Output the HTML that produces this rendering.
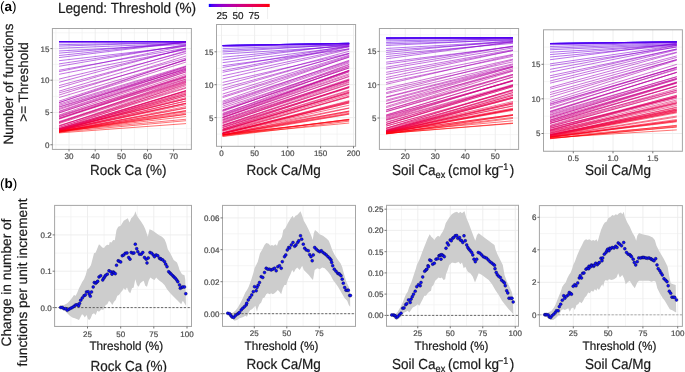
<!DOCTYPE html>
<html><head><meta charset="utf-8"><title>Multifunctionality threshold figure</title>
<style>html,body{margin:0;padding:0;background:#fff;} body{width:685px;height:372px;overflow:hidden;} svg{display:block;will-change:transform;}</style>
</head><body>
<svg width="685" height="372" viewBox="0 0 685 372" text-rendering="geometricPrecision">
<rect x="0" y="0" width="685" height="372" fill="#fff"/>
<rect x="52.4" y="28.5" width="139.0" height="120.9" fill="#fff"/>
<line x1="55.9" y1="28.5" x2="55.9" y2="149.4" stroke="#f0f0f0" stroke-width="0.7"/>
<line x1="82.1" y1="28.5" x2="82.1" y2="149.4" stroke="#f0f0f0" stroke-width="0.7"/>
<line x1="108.30000000000001" y1="28.5" x2="108.30000000000001" y2="149.4" stroke="#f0f0f0" stroke-width="0.7"/>
<line x1="134.45" y1="28.5" x2="134.45" y2="149.4" stroke="#f0f0f0" stroke-width="0.7"/>
<line x1="160.55" y1="28.5" x2="160.55" y2="149.4" stroke="#f0f0f0" stroke-width="0.7"/>
<line x1="186.7" y1="28.5" x2="186.7" y2="149.4" stroke="#f0f0f0" stroke-width="0.7"/>
<line x1="52.4" y1="32.8" x2="191.4" y2="32.8" stroke="#f0f0f0" stroke-width="0.7"/>
<line x1="52.4" y1="64.4" x2="191.4" y2="64.4" stroke="#f0f0f0" stroke-width="0.7"/>
<line x1="52.4" y1="96.35" x2="191.4" y2="96.35" stroke="#f0f0f0" stroke-width="0.7"/>
<line x1="52.4" y1="128.625" x2="191.4" y2="128.625" stroke="#f0f0f0" stroke-width="0.7"/>
<line x1="69" y1="28.5" x2="69" y2="149.4" stroke="#ececec" stroke-width="0.9"/>
<line x1="95.2" y1="28.5" x2="95.2" y2="149.4" stroke="#ececec" stroke-width="0.9"/>
<line x1="121.4" y1="28.5" x2="121.4" y2="149.4" stroke="#ececec" stroke-width="0.9"/>
<line x1="147.5" y1="28.5" x2="147.5" y2="149.4" stroke="#ececec" stroke-width="0.9"/>
<line x1="173.6" y1="28.5" x2="173.6" y2="149.4" stroke="#ececec" stroke-width="0.9"/>
<line x1="52.4" y1="144.75" x2="191.4" y2="144.75" stroke="#ececec" stroke-width="0.9"/>
<line x1="52.4" y1="112.5" x2="191.4" y2="112.5" stroke="#ececec" stroke-width="0.9"/>
<line x1="52.4" y1="80.2" x2="191.4" y2="80.2" stroke="#ececec" stroke-width="0.9"/>
<line x1="52.4" y1="48.6" x2="191.4" y2="48.6" stroke="#ececec" stroke-width="0.9"/>
<line x1="59" y1="41.50" x2="186" y2="41.50" stroke="#0000ff" stroke-width="0.65" stroke-opacity="0.85"/>
<line x1="59" y1="41.50" x2="186" y2="41.50" stroke="#2100fc" stroke-width="0.65" stroke-opacity="0.85"/>
<line x1="59" y1="41.50" x2="186" y2="41.50" stroke="#3100fa" stroke-width="0.65" stroke-opacity="0.85"/>
<line x1="59" y1="41.50" x2="186" y2="41.50" stroke="#3c00f7" stroke-width="0.65" stroke-opacity="0.85"/>
<line x1="59" y1="41.50" x2="186" y2="41.50" stroke="#4500f5" stroke-width="0.65" stroke-opacity="0.85"/>
<line x1="59" y1="41.50" x2="186" y2="41.50" stroke="#4d00f2" stroke-width="0.65" stroke-opacity="0.85"/>
<line x1="59" y1="41.50" x2="186" y2="41.50" stroke="#5400ef" stroke-width="0.65" stroke-opacity="0.85"/>
<line x1="59" y1="42.20" x2="186" y2="41.75" stroke="#5b00ed" stroke-width="0.65" stroke-opacity="0.85"/>
<line x1="59" y1="42.80" x2="186" y2="42.04" stroke="#6100ea" stroke-width="0.65" stroke-opacity="0.85"/>
<line x1="59" y1="44.70" x2="186" y2="42.38" stroke="#6600e8" stroke-width="0.65" stroke-opacity="0.85"/>
<line x1="59" y1="46.11" x2="186" y2="42.21" stroke="#6b00e5" stroke-width="0.65" stroke-opacity="0.85"/>
<line x1="59" y1="48.25" x2="186" y2="43.19" stroke="#7000e2" stroke-width="0.65" stroke-opacity="0.85"/>
<line x1="59" y1="50.98" x2="186" y2="44.26" stroke="#7400e0" stroke-width="0.65" stroke-opacity="0.85"/>
<line x1="59" y1="53.14" x2="186" y2="42.37" stroke="#7800dd" stroke-width="0.65" stroke-opacity="0.85"/>
<line x1="59" y1="55.54" x2="186" y2="42.16" stroke="#7c00db" stroke-width="0.65" stroke-opacity="0.85"/>
<line x1="59" y1="57.59" x2="186" y2="42.12" stroke="#8000d8" stroke-width="0.65" stroke-opacity="0.85"/>
<line x1="59" y1="60.69" x2="186" y2="46.14" stroke="#8300d6" stroke-width="0.65" stroke-opacity="0.85"/>
<line x1="59" y1="63.88" x2="186" y2="45.20" stroke="#8700d3" stroke-width="0.65" stroke-opacity="0.85"/>
<line x1="59" y1="66.31" x2="186" y2="44.69" stroke="#8a00d0" stroke-width="0.65" stroke-opacity="0.85"/>
<line x1="59" y1="70.19" x2="186" y2="48.10" stroke="#8d00ce" stroke-width="0.65" stroke-opacity="0.85"/>
<line x1="59" y1="71.63" x2="186" y2="45.65" stroke="#9000cb" stroke-width="0.65" stroke-opacity="0.85"/>
<line x1="59" y1="74.34" x2="186" y2="49.53" stroke="#9300c9" stroke-width="0.65" stroke-opacity="0.85"/>
<line x1="59" y1="79.09" x2="186" y2="48.83" stroke="#9600c6" stroke-width="0.65" stroke-opacity="0.85"/>
<line x1="59" y1="82.29" x2="186" y2="48.10" stroke="#9900c4" stroke-width="0.65" stroke-opacity="0.85"/>
<line x1="59" y1="85.62" x2="186" y2="51.65" stroke="#9c00c1" stroke-width="0.65" stroke-opacity="0.85"/>
<line x1="59" y1="87.79" x2="186" y2="50.87" stroke="#9e00bf" stroke-width="0.65" stroke-opacity="0.85"/>
<line x1="59" y1="91.16" x2="186" y2="53.25" stroke="#a100bc" stroke-width="0.65" stroke-opacity="0.85"/>
<line x1="59" y1="92.87" x2="186" y2="58.12" stroke="#a300ba" stroke-width="0.65" stroke-opacity="0.85"/>
<line x1="59" y1="95.04" x2="186" y2="55.93" stroke="#a600b7" stroke-width="0.65" stroke-opacity="0.85"/>
<line x1="59" y1="97.52" x2="186" y2="60.09" stroke="#a800b5" stroke-width="0.65" stroke-opacity="0.85"/>
<line x1="59" y1="101.12" x2="186" y2="59.74" stroke="#aa00b2" stroke-width="0.65" stroke-opacity="0.85"/>
<line x1="59" y1="102.66" x2="186" y2="59.35" stroke="#ac00b0" stroke-width="0.65" stroke-opacity="0.85"/>
<line x1="59" y1="102.63" x2="186" y2="62.00" stroke="#ae00ad" stroke-width="0.65" stroke-opacity="0.85"/>
<line x1="59" y1="104.14" x2="186" y2="65.95" stroke="#b100ab" stroke-width="0.65" stroke-opacity="0.85"/>
<line x1="59" y1="105.41" x2="186" y2="66.72" stroke="#b300a8" stroke-width="0.65" stroke-opacity="0.85"/>
<line x1="59" y1="106.79" x2="186" y2="67.77" stroke="#b500a6" stroke-width="0.65" stroke-opacity="0.85"/>
<line x1="59" y1="107.20" x2="186" y2="69.35" stroke="#b700a3" stroke-width="0.65" stroke-opacity="0.85"/>
<line x1="59" y1="108.52" x2="186" y2="69.16" stroke="#b800a1" stroke-width="0.65" stroke-opacity="0.85"/>
<line x1="59" y1="109.59" x2="186" y2="66.57" stroke="#ba009e" stroke-width="0.65" stroke-opacity="0.85"/>
<line x1="59" y1="111.17" x2="186" y2="68.32" stroke="#bc009c" stroke-width="0.65" stroke-opacity="0.85"/>
<line x1="59" y1="111.74" x2="186" y2="70.27" stroke="#be009a" stroke-width="0.65" stroke-opacity="0.85"/>
<line x1="59" y1="112.77" x2="186" y2="71.77" stroke="#c00097" stroke-width="0.65" stroke-opacity="0.85"/>
<line x1="59" y1="112.97" x2="186" y2="70.57" stroke="#c10095" stroke-width="0.65" stroke-opacity="0.85"/>
<line x1="59" y1="115.04" x2="186" y2="71.95" stroke="#c30092" stroke-width="0.65" stroke-opacity="0.85"/>
<line x1="59" y1="115.68" x2="186" y2="76.30" stroke="#c50090" stroke-width="0.65" stroke-opacity="0.85"/>
<line x1="59" y1="116.90" x2="186" y2="76.91" stroke="#c6008d" stroke-width="0.65" stroke-opacity="0.85"/>
<line x1="59" y1="116.64" x2="186" y2="73.82" stroke="#c8008b" stroke-width="0.65" stroke-opacity="0.85"/>
<line x1="59" y1="118.53" x2="186" y2="75.29" stroke="#ca0088" stroke-width="0.65" stroke-opacity="0.85"/>
<line x1="59" y1="117.91" x2="186" y2="79.02" stroke="#cb0086" stroke-width="0.65" stroke-opacity="0.85"/>
<line x1="59" y1="118.79" x2="186" y2="76.58" stroke="#cd0084" stroke-width="0.65" stroke-opacity="0.85"/>
<line x1="59" y1="119.14" x2="186" y2="77.64" stroke="#ce0081" stroke-width="0.65" stroke-opacity="0.85"/>
<line x1="59" y1="121.56" x2="186" y2="80.37" stroke="#cf007f" stroke-width="0.65" stroke-opacity="0.85"/>
<line x1="59" y1="122.55" x2="186" y2="79.12" stroke="#d1007c" stroke-width="0.65" stroke-opacity="0.85"/>
<line x1="59" y1="122.11" x2="186" y2="81.13" stroke="#d2007a" stroke-width="0.65" stroke-opacity="0.85"/>
<line x1="59" y1="122.78" x2="186" y2="81.54" stroke="#d40078" stroke-width="0.65" stroke-opacity="0.85"/>
<line x1="59" y1="123.55" x2="186" y2="82.31" stroke="#d50075" stroke-width="0.65" stroke-opacity="0.85"/>
<line x1="59" y1="126.10" x2="186" y2="84.58" stroke="#d60073" stroke-width="0.65" stroke-opacity="0.85"/>
<line x1="59" y1="126.17" x2="186" y2="82.80" stroke="#d80070" stroke-width="0.65" stroke-opacity="0.85"/>
<line x1="59" y1="125.47" x2="186" y2="87.45" stroke="#d9006e" stroke-width="0.65" stroke-opacity="0.85"/>
<line x1="59" y1="127.80" x2="186" y2="83.81" stroke="#da006b" stroke-width="0.65" stroke-opacity="0.85"/>
<line x1="59" y1="127.28" x2="186" y2="88.15" stroke="#dc0069" stroke-width="0.65" stroke-opacity="0.85"/>
<line x1="59" y1="128.75" x2="186" y2="85.68" stroke="#dd0067" stroke-width="0.65" stroke-opacity="0.85"/>
<line x1="59" y1="128.66" x2="186" y2="90.60" stroke="#de0064" stroke-width="0.65" stroke-opacity="0.85"/>
<line x1="59" y1="129.03" x2="186" y2="90.87" stroke="#df0062" stroke-width="0.65" stroke-opacity="0.85"/>
<line x1="59" y1="128.77" x2="186" y2="91.13" stroke="#e1005f" stroke-width="0.65" stroke-opacity="0.85"/>
<line x1="59" y1="130.24" x2="186" y2="90.59" stroke="#e2005d" stroke-width="0.65" stroke-opacity="0.85"/>
<line x1="59" y1="130.32" x2="186" y2="92.23" stroke="#e3005b" stroke-width="0.65" stroke-opacity="0.85"/>
<line x1="59" y1="129.46" x2="186" y2="93.15" stroke="#e40058" stroke-width="0.65" stroke-opacity="0.85"/>
<line x1="59" y1="128.95" x2="186" y2="94.30" stroke="#e50056" stroke-width="0.65" stroke-opacity="0.85"/>
<line x1="59" y1="130.65" x2="186" y2="95.61" stroke="#e60053" stroke-width="0.65" stroke-opacity="0.85"/>
<line x1="59" y1="130.45" x2="186" y2="95.74" stroke="#e70051" stroke-width="0.65" stroke-opacity="0.85"/>
<line x1="59" y1="130.76" x2="186" y2="94.12" stroke="#e9004e" stroke-width="0.65" stroke-opacity="0.85"/>
<line x1="59" y1="129.24" x2="186" y2="97.57" stroke="#ea004c" stroke-width="0.65" stroke-opacity="0.85"/>
<line x1="59" y1="129.73" x2="186" y2="98.93" stroke="#eb0049" stroke-width="0.65" stroke-opacity="0.85"/>
<line x1="59" y1="130.60" x2="186" y2="100.90" stroke="#ec0047" stroke-width="0.65" stroke-opacity="0.85"/>
<line x1="59" y1="129.49" x2="186" y2="98.67" stroke="#ed0044" stroke-width="0.65" stroke-opacity="0.85"/>
<line x1="59" y1="129.97" x2="186" y2="98.88" stroke="#ee0042" stroke-width="0.65" stroke-opacity="0.85"/>
<line x1="59" y1="130.98" x2="186" y2="101.11" stroke="#ef003f" stroke-width="0.65" stroke-opacity="0.85"/>
<line x1="59" y1="130.41" x2="186" y2="103.10" stroke="#f0003d" stroke-width="0.65" stroke-opacity="0.85"/>
<line x1="59" y1="130.71" x2="186" y2="104.66" stroke="#f1003a" stroke-width="0.65" stroke-opacity="0.85"/>
<line x1="59" y1="131.71" x2="186" y2="103.42" stroke="#f20037" stroke-width="0.65" stroke-opacity="0.85"/>
<line x1="59" y1="130.68" x2="186" y2="103.42" stroke="#f30034" stroke-width="0.65" stroke-opacity="0.85"/>
<line x1="59" y1="131.82" x2="186" y2="108.22" stroke="#f40032" stroke-width="0.65" stroke-opacity="0.85"/>
<line x1="59" y1="132.14" x2="186" y2="106.59" stroke="#f5002f" stroke-width="0.65" stroke-opacity="0.85"/>
<line x1="59" y1="131.24" x2="186" y2="107.82" stroke="#f6002c" stroke-width="0.65" stroke-opacity="0.85"/>
<line x1="59" y1="131.26" x2="186" y2="110.81" stroke="#f70029" stroke-width="0.65" stroke-opacity="0.85"/>
<line x1="59" y1="131.16" x2="186" y2="113.11" stroke="#f80026" stroke-width="0.65" stroke-opacity="0.85"/>
<line x1="59" y1="131.53" x2="186" y2="110.52" stroke="#f90022" stroke-width="0.65" stroke-opacity="0.85"/>
<line x1="59" y1="132.47" x2="186" y2="111.59" stroke="#fa001f" stroke-width="0.65" stroke-opacity="0.85"/>
<line x1="59" y1="131.96" x2="186" y2="114.17" stroke="#fa001b" stroke-width="0.65" stroke-opacity="0.85"/>
<line x1="59" y1="130.95" x2="186" y2="114.54" stroke="#fb0017" stroke-width="0.65" stroke-opacity="0.85"/>
<line x1="59" y1="131.06" x2="186" y2="119.24" stroke="#fc0013" stroke-width="0.65" stroke-opacity="0.85"/>
<line x1="59" y1="131.39" x2="186" y2="116.56" stroke="#fd000d" stroke-width="0.65" stroke-opacity="0.85"/>
<line x1="59" y1="132.10" x2="186" y2="120.71" stroke="#fe0007" stroke-width="0.65" stroke-opacity="0.85"/>
<line x1="59" y1="132.91" x2="186" y2="123.59" stroke="#ff0000" stroke-width="0.65" stroke-opacity="0.85"/>
<rect x="52.4" y="28.5" width="139.0" height="120.9" fill="none" stroke="#a6a6a6" stroke-width="1"/>
<line x1="50.4" y1="144.75" x2="52.4" y2="144.75" stroke="#555555" stroke-width="0.8"/>
<text x="49.4" y="147.65" font-family="Liberation Sans, sans-serif" font-size="8.0" fill="#4d4d4d" stroke="#4d4d4d" stroke-width="0.22" text-anchor="end">0</text>
<line x1="50.4" y1="112.5" x2="52.4" y2="112.5" stroke="#555555" stroke-width="0.8"/>
<text x="49.4" y="115.4" font-family="Liberation Sans, sans-serif" font-size="8.0" fill="#4d4d4d" stroke="#4d4d4d" stroke-width="0.22" text-anchor="end">5</text>
<line x1="50.4" y1="80.2" x2="52.4" y2="80.2" stroke="#555555" stroke-width="0.8"/>
<text x="49.4" y="83.10000000000001" font-family="Liberation Sans, sans-serif" font-size="8.0" fill="#4d4d4d" stroke="#4d4d4d" stroke-width="0.22" text-anchor="end">10</text>
<line x1="50.4" y1="48.6" x2="52.4" y2="48.6" stroke="#555555" stroke-width="0.8"/>
<text x="49.4" y="51.5" font-family="Liberation Sans, sans-serif" font-size="8.0" fill="#4d4d4d" stroke="#4d4d4d" stroke-width="0.22" text-anchor="end">15</text>
<line x1="69" y1="149.4" x2="69" y2="151.4" stroke="#555555" stroke-width="0.8"/>
<text x="69" y="158.8" font-family="Liberation Sans, sans-serif" font-size="8.0" fill="#4d4d4d" stroke="#4d4d4d" stroke-width="0.22" text-anchor="middle">30</text>
<line x1="95.2" y1="149.4" x2="95.2" y2="151.4" stroke="#555555" stroke-width="0.8"/>
<text x="95.2" y="158.8" font-family="Liberation Sans, sans-serif" font-size="8.0" fill="#4d4d4d" stroke="#4d4d4d" stroke-width="0.22" text-anchor="middle">40</text>
<line x1="121.4" y1="149.4" x2="121.4" y2="151.4" stroke="#555555" stroke-width="0.8"/>
<text x="121.4" y="158.8" font-family="Liberation Sans, sans-serif" font-size="8.0" fill="#4d4d4d" stroke="#4d4d4d" stroke-width="0.22" text-anchor="middle">50</text>
<line x1="147.5" y1="149.4" x2="147.5" y2="151.4" stroke="#555555" stroke-width="0.8"/>
<text x="147.5" y="158.8" font-family="Liberation Sans, sans-serif" font-size="8.0" fill="#4d4d4d" stroke="#4d4d4d" stroke-width="0.22" text-anchor="middle">60</text>
<line x1="173.6" y1="149.4" x2="173.6" y2="151.4" stroke="#555555" stroke-width="0.8"/>
<text x="173.6" y="158.8" font-family="Liberation Sans, sans-serif" font-size="8.0" fill="#4d4d4d" stroke="#4d4d4d" stroke-width="0.22" text-anchor="middle">70</text>
<rect x="216.5" y="24.5" width="139.10000000000002" height="121.80000000000001" fill="#fff"/>
<line x1="238.05" y1="24.5" x2="238.05" y2="146.3" stroke="#f0f0f0" stroke-width="0.7"/>
<line x1="271.15" y1="24.5" x2="271.15" y2="146.3" stroke="#f0f0f0" stroke-width="0.7"/>
<line x1="304.15" y1="24.5" x2="304.15" y2="146.3" stroke="#f0f0f0" stroke-width="0.7"/>
<line x1="337.05" y1="24.5" x2="337.05" y2="146.3" stroke="#f0f0f0" stroke-width="0.7"/>
<line x1="216.5" y1="35.349999999999994" x2="355.6" y2="35.349999999999994" stroke="#f0f0f0" stroke-width="0.7"/>
<line x1="216.5" y1="68.25" x2="355.6" y2="68.25" stroke="#f0f0f0" stroke-width="0.7"/>
<line x1="216.5" y1="101.15" x2="355.6" y2="101.15" stroke="#f0f0f0" stroke-width="0.7"/>
<line x1="216.5" y1="134.05" x2="355.6" y2="134.05" stroke="#f0f0f0" stroke-width="0.7"/>
<line x1="221.5" y1="24.5" x2="221.5" y2="146.3" stroke="#ececec" stroke-width="0.9"/>
<line x1="254.6" y1="24.5" x2="254.6" y2="146.3" stroke="#ececec" stroke-width="0.9"/>
<line x1="287.7" y1="24.5" x2="287.7" y2="146.3" stroke="#ececec" stroke-width="0.9"/>
<line x1="320.6" y1="24.5" x2="320.6" y2="146.3" stroke="#ececec" stroke-width="0.9"/>
<line x1="353.5" y1="24.5" x2="353.5" y2="146.3" stroke="#ececec" stroke-width="0.9"/>
<line x1="216.5" y1="117.6" x2="355.6" y2="117.6" stroke="#ececec" stroke-width="0.9"/>
<line x1="216.5" y1="84.7" x2="355.6" y2="84.7" stroke="#ececec" stroke-width="0.9"/>
<line x1="216.5" y1="51.8" x2="355.6" y2="51.8" stroke="#ececec" stroke-width="0.9"/>
<line x1="222.6" y1="45.50" x2="349.2" y2="43.30" stroke="#0000ff" stroke-width="0.65" stroke-opacity="0.85"/>
<line x1="222.6" y1="45.50" x2="349.2" y2="43.30" stroke="#2100fc" stroke-width="0.65" stroke-opacity="0.85"/>
<line x1="222.6" y1="45.50" x2="349.2" y2="43.30" stroke="#3100fa" stroke-width="0.65" stroke-opacity="0.85"/>
<line x1="222.6" y1="45.50" x2="349.2" y2="43.30" stroke="#3c00f7" stroke-width="0.65" stroke-opacity="0.85"/>
<line x1="222.6" y1="45.50" x2="349.2" y2="43.30" stroke="#4500f5" stroke-width="0.65" stroke-opacity="0.85"/>
<line x1="222.6" y1="45.50" x2="349.2" y2="43.30" stroke="#4d00f2" stroke-width="0.65" stroke-opacity="0.85"/>
<line x1="222.6" y1="45.50" x2="349.2" y2="43.30" stroke="#5400ef" stroke-width="0.65" stroke-opacity="0.85"/>
<line x1="222.6" y1="46.20" x2="349.2" y2="43.60" stroke="#5b00ed" stroke-width="0.65" stroke-opacity="0.85"/>
<line x1="222.6" y1="46.70" x2="349.2" y2="43.84" stroke="#6100ea" stroke-width="0.65" stroke-opacity="0.85"/>
<line x1="222.6" y1="48.62" x2="349.2" y2="44.39" stroke="#6600e8" stroke-width="0.65" stroke-opacity="0.85"/>
<line x1="222.6" y1="50.28" x2="349.2" y2="44.74" stroke="#6b00e5" stroke-width="0.65" stroke-opacity="0.85"/>
<line x1="222.6" y1="51.95" x2="349.2" y2="44.22" stroke="#7000e2" stroke-width="0.65" stroke-opacity="0.85"/>
<line x1="222.6" y1="54.06" x2="349.2" y2="46.10" stroke="#7400e0" stroke-width="0.65" stroke-opacity="0.85"/>
<line x1="222.6" y1="57.22" x2="349.2" y2="45.21" stroke="#7800dd" stroke-width="0.65" stroke-opacity="0.85"/>
<line x1="222.6" y1="59.98" x2="349.2" y2="44.42" stroke="#7c00db" stroke-width="0.65" stroke-opacity="0.85"/>
<line x1="222.6" y1="62.66" x2="349.2" y2="46.54" stroke="#8000d8" stroke-width="0.65" stroke-opacity="0.85"/>
<line x1="222.6" y1="65.68" x2="349.2" y2="49.01" stroke="#8300d6" stroke-width="0.65" stroke-opacity="0.85"/>
<line x1="222.6" y1="67.45" x2="349.2" y2="45.68" stroke="#8700d3" stroke-width="0.65" stroke-opacity="0.85"/>
<line x1="222.6" y1="70.64" x2="349.2" y2="46.32" stroke="#8a00d0" stroke-width="0.65" stroke-opacity="0.85"/>
<line x1="222.6" y1="72.30" x2="349.2" y2="46.86" stroke="#8d00ce" stroke-width="0.65" stroke-opacity="0.85"/>
<line x1="222.6" y1="75.80" x2="349.2" y2="48.59" stroke="#9000cb" stroke-width="0.65" stroke-opacity="0.85"/>
<line x1="222.6" y1="78.95" x2="349.2" y2="49.42" stroke="#9300c9" stroke-width="0.65" stroke-opacity="0.85"/>
<line x1="222.6" y1="82.45" x2="349.2" y2="53.34" stroke="#9600c6" stroke-width="0.65" stroke-opacity="0.85"/>
<line x1="222.6" y1="85.33" x2="349.2" y2="51.28" stroke="#9900c4" stroke-width="0.65" stroke-opacity="0.85"/>
<line x1="222.6" y1="88.38" x2="349.2" y2="53.87" stroke="#9c00c1" stroke-width="0.65" stroke-opacity="0.85"/>
<line x1="222.6" y1="90.47" x2="349.2" y2="53.32" stroke="#9e00bf" stroke-width="0.65" stroke-opacity="0.85"/>
<line x1="222.6" y1="94.02" x2="349.2" y2="55.20" stroke="#a100bc" stroke-width="0.65" stroke-opacity="0.85"/>
<line x1="222.6" y1="96.45" x2="349.2" y2="56.05" stroke="#a300ba" stroke-width="0.65" stroke-opacity="0.85"/>
<line x1="222.6" y1="97.64" x2="349.2" y2="57.24" stroke="#a600b7" stroke-width="0.65" stroke-opacity="0.85"/>
<line x1="222.6" y1="101.14" x2="349.2" y2="56.81" stroke="#a800b5" stroke-width="0.65" stroke-opacity="0.85"/>
<line x1="222.6" y1="102.36" x2="349.2" y2="60.98" stroke="#aa00b2" stroke-width="0.65" stroke-opacity="0.85"/>
<line x1="222.6" y1="103.75" x2="349.2" y2="60.22" stroke="#ac00b0" stroke-width="0.65" stroke-opacity="0.85"/>
<line x1="222.6" y1="104.50" x2="349.2" y2="61.80" stroke="#ae00ad" stroke-width="0.65" stroke-opacity="0.85"/>
<line x1="222.6" y1="106.16" x2="349.2" y2="62.88" stroke="#b100ab" stroke-width="0.65" stroke-opacity="0.85"/>
<line x1="222.6" y1="107.76" x2="349.2" y2="66.28" stroke="#b300a8" stroke-width="0.65" stroke-opacity="0.85"/>
<line x1="222.6" y1="109.85" x2="349.2" y2="64.32" stroke="#b500a6" stroke-width="0.65" stroke-opacity="0.85"/>
<line x1="222.6" y1="110.50" x2="349.2" y2="67.86" stroke="#b700a3" stroke-width="0.65" stroke-opacity="0.85"/>
<line x1="222.6" y1="110.54" x2="349.2" y2="67.95" stroke="#b800a1" stroke-width="0.65" stroke-opacity="0.85"/>
<line x1="222.6" y1="111.48" x2="349.2" y2="64.94" stroke="#ba009e" stroke-width="0.65" stroke-opacity="0.85"/>
<line x1="222.6" y1="113.24" x2="349.2" y2="70.62" stroke="#bc009c" stroke-width="0.65" stroke-opacity="0.85"/>
<line x1="222.6" y1="114.01" x2="349.2" y2="66.62" stroke="#be009a" stroke-width="0.65" stroke-opacity="0.85"/>
<line x1="222.6" y1="115.17" x2="349.2" y2="71.46" stroke="#c00097" stroke-width="0.65" stroke-opacity="0.85"/>
<line x1="222.6" y1="114.66" x2="349.2" y2="70.74" stroke="#c10095" stroke-width="0.65" stroke-opacity="0.85"/>
<line x1="222.6" y1="116.05" x2="349.2" y2="70.21" stroke="#c30092" stroke-width="0.65" stroke-opacity="0.85"/>
<line x1="222.6" y1="117.19" x2="349.2" y2="70.51" stroke="#c50090" stroke-width="0.65" stroke-opacity="0.85"/>
<line x1="222.6" y1="117.75" x2="349.2" y2="71.89" stroke="#c6008d" stroke-width="0.65" stroke-opacity="0.85"/>
<line x1="222.6" y1="117.63" x2="349.2" y2="74.88" stroke="#c8008b" stroke-width="0.65" stroke-opacity="0.85"/>
<line x1="222.6" y1="117.63" x2="349.2" y2="73.73" stroke="#ca0088" stroke-width="0.65" stroke-opacity="0.85"/>
<line x1="222.6" y1="119.17" x2="349.2" y2="76.67" stroke="#cb0086" stroke-width="0.65" stroke-opacity="0.85"/>
<line x1="222.6" y1="120.17" x2="349.2" y2="76.20" stroke="#cd0084" stroke-width="0.65" stroke-opacity="0.85"/>
<line x1="222.6" y1="119.87" x2="349.2" y2="79.90" stroke="#ce0081" stroke-width="0.65" stroke-opacity="0.85"/>
<line x1="222.6" y1="120.96" x2="349.2" y2="80.50" stroke="#cf007f" stroke-width="0.65" stroke-opacity="0.85"/>
<line x1="222.6" y1="121.95" x2="349.2" y2="78.89" stroke="#d1007c" stroke-width="0.65" stroke-opacity="0.85"/>
<line x1="222.6" y1="122.94" x2="349.2" y2="81.65" stroke="#d2007a" stroke-width="0.65" stroke-opacity="0.85"/>
<line x1="222.6" y1="122.55" x2="349.2" y2="80.44" stroke="#d40078" stroke-width="0.65" stroke-opacity="0.85"/>
<line x1="222.6" y1="123.70" x2="349.2" y2="79.59" stroke="#d50075" stroke-width="0.65" stroke-opacity="0.85"/>
<line x1="222.6" y1="125.09" x2="349.2" y2="84.29" stroke="#d60073" stroke-width="0.65" stroke-opacity="0.85"/>
<line x1="222.6" y1="125.82" x2="349.2" y2="83.77" stroke="#d80070" stroke-width="0.65" stroke-opacity="0.85"/>
<line x1="222.6" y1="125.38" x2="349.2" y2="82.39" stroke="#d9006e" stroke-width="0.65" stroke-opacity="0.85"/>
<line x1="222.6" y1="125.87" x2="349.2" y2="87.37" stroke="#da006b" stroke-width="0.65" stroke-opacity="0.85"/>
<line x1="222.6" y1="126.96" x2="349.2" y2="86.61" stroke="#dc0069" stroke-width="0.65" stroke-opacity="0.85"/>
<line x1="222.6" y1="127.57" x2="349.2" y2="87.80" stroke="#dd0067" stroke-width="0.65" stroke-opacity="0.85"/>
<line x1="222.6" y1="127.62" x2="349.2" y2="87.13" stroke="#de0064" stroke-width="0.65" stroke-opacity="0.85"/>
<line x1="222.6" y1="129.12" x2="349.2" y2="86.61" stroke="#df0062" stroke-width="0.65" stroke-opacity="0.85"/>
<line x1="222.6" y1="129.00" x2="349.2" y2="90.18" stroke="#e1005f" stroke-width="0.65" stroke-opacity="0.85"/>
<line x1="222.6" y1="130.32" x2="349.2" y2="92.17" stroke="#e2005d" stroke-width="0.65" stroke-opacity="0.85"/>
<line x1="222.6" y1="129.36" x2="349.2" y2="90.94" stroke="#e3005b" stroke-width="0.65" stroke-opacity="0.85"/>
<line x1="222.6" y1="129.96" x2="349.2" y2="92.84" stroke="#e40058" stroke-width="0.65" stroke-opacity="0.85"/>
<line x1="222.6" y1="130.38" x2="349.2" y2="92.14" stroke="#e50056" stroke-width="0.65" stroke-opacity="0.85"/>
<line x1="222.6" y1="130.22" x2="349.2" y2="93.30" stroke="#e60053" stroke-width="0.65" stroke-opacity="0.85"/>
<line x1="222.6" y1="130.90" x2="349.2" y2="94.66" stroke="#e70051" stroke-width="0.65" stroke-opacity="0.85"/>
<line x1="222.6" y1="132.64" x2="349.2" y2="96.01" stroke="#e9004e" stroke-width="0.65" stroke-opacity="0.85"/>
<line x1="222.6" y1="131.42" x2="349.2" y2="96.82" stroke="#ea004c" stroke-width="0.65" stroke-opacity="0.85"/>
<line x1="222.6" y1="133.09" x2="349.2" y2="96.75" stroke="#eb0049" stroke-width="0.65" stroke-opacity="0.85"/>
<line x1="222.6" y1="133.41" x2="349.2" y2="100.66" stroke="#ec0047" stroke-width="0.65" stroke-opacity="0.85"/>
<line x1="222.6" y1="133.08" x2="349.2" y2="101.31" stroke="#ed0044" stroke-width="0.65" stroke-opacity="0.85"/>
<line x1="222.6" y1="133.50" x2="349.2" y2="101.82" stroke="#ee0042" stroke-width="0.65" stroke-opacity="0.85"/>
<line x1="222.6" y1="133.42" x2="349.2" y2="102.90" stroke="#ef003f" stroke-width="0.65" stroke-opacity="0.85"/>
<line x1="222.6" y1="133.94" x2="349.2" y2="102.11" stroke="#f0003d" stroke-width="0.65" stroke-opacity="0.85"/>
<line x1="222.6" y1="133.35" x2="349.2" y2="103.04" stroke="#f1003a" stroke-width="0.65" stroke-opacity="0.85"/>
<line x1="222.6" y1="133.24" x2="349.2" y2="105.22" stroke="#f20037" stroke-width="0.65" stroke-opacity="0.85"/>
<line x1="222.6" y1="133.04" x2="349.2" y2="107.88" stroke="#f30034" stroke-width="0.65" stroke-opacity="0.85"/>
<line x1="222.6" y1="134.98" x2="349.2" y2="108.21" stroke="#f40032" stroke-width="0.65" stroke-opacity="0.85"/>
<line x1="222.6" y1="135.01" x2="349.2" y2="111.06" stroke="#f5002f" stroke-width="0.65" stroke-opacity="0.85"/>
<line x1="222.6" y1="133.67" x2="349.2" y2="111.13" stroke="#f6002c" stroke-width="0.65" stroke-opacity="0.85"/>
<line x1="222.6" y1="134.80" x2="349.2" y2="113.21" stroke="#f70029" stroke-width="0.65" stroke-opacity="0.85"/>
<line x1="222.6" y1="134.97" x2="349.2" y2="111.96" stroke="#f80026" stroke-width="0.65" stroke-opacity="0.85"/>
<line x1="222.6" y1="134.65" x2="349.2" y2="113.92" stroke="#f90022" stroke-width="0.65" stroke-opacity="0.85"/>
<line x1="222.6" y1="135.67" x2="349.2" y2="114.21" stroke="#fa001f" stroke-width="0.65" stroke-opacity="0.85"/>
<line x1="222.6" y1="134.72" x2="349.2" y2="119.57" stroke="#fa001b" stroke-width="0.65" stroke-opacity="0.85"/>
<line x1="222.6" y1="134.47" x2="349.2" y2="120.25" stroke="#fb0017" stroke-width="0.65" stroke-opacity="0.85"/>
<line x1="222.6" y1="136.17" x2="349.2" y2="119.22" stroke="#fc0013" stroke-width="0.65" stroke-opacity="0.85"/>
<line x1="222.6" y1="135.30" x2="349.2" y2="119.47" stroke="#fd000d" stroke-width="0.65" stroke-opacity="0.85"/>
<line x1="222.6" y1="136.51" x2="349.2" y2="121.20" stroke="#fe0007" stroke-width="0.65" stroke-opacity="0.85"/>
<line x1="222.6" y1="135.05" x2="349.2" y2="123.04" stroke="#ff0000" stroke-width="0.65" stroke-opacity="0.85"/>
<rect x="216.5" y="24.5" width="139.10000000000002" height="121.80000000000001" fill="none" stroke="#a6a6a6" stroke-width="1"/>
<line x1="214.5" y1="117.6" x2="216.5" y2="117.6" stroke="#555555" stroke-width="0.8"/>
<text x="213.5" y="120.5" font-family="Liberation Sans, sans-serif" font-size="8.0" fill="#4d4d4d" stroke="#4d4d4d" stroke-width="0.22" text-anchor="end">5</text>
<line x1="214.5" y1="84.7" x2="216.5" y2="84.7" stroke="#555555" stroke-width="0.8"/>
<text x="213.5" y="87.60000000000001" font-family="Liberation Sans, sans-serif" font-size="8.0" fill="#4d4d4d" stroke="#4d4d4d" stroke-width="0.22" text-anchor="end">10</text>
<line x1="214.5" y1="51.8" x2="216.5" y2="51.8" stroke="#555555" stroke-width="0.8"/>
<text x="213.5" y="54.699999999999996" font-family="Liberation Sans, sans-serif" font-size="8.0" fill="#4d4d4d" stroke="#4d4d4d" stroke-width="0.22" text-anchor="end">15</text>
<line x1="221.5" y1="146.3" x2="221.5" y2="148.3" stroke="#555555" stroke-width="0.8"/>
<text x="221.5" y="155.70000000000002" font-family="Liberation Sans, sans-serif" font-size="8.0" fill="#4d4d4d" stroke="#4d4d4d" stroke-width="0.22" text-anchor="middle">0</text>
<line x1="254.6" y1="146.3" x2="254.6" y2="148.3" stroke="#555555" stroke-width="0.8"/>
<text x="254.6" y="155.70000000000002" font-family="Liberation Sans, sans-serif" font-size="8.0" fill="#4d4d4d" stroke="#4d4d4d" stroke-width="0.22" text-anchor="middle">50</text>
<line x1="287.7" y1="146.3" x2="287.7" y2="148.3" stroke="#555555" stroke-width="0.8"/>
<text x="287.7" y="155.70000000000002" font-family="Liberation Sans, sans-serif" font-size="8.0" fill="#4d4d4d" stroke="#4d4d4d" stroke-width="0.22" text-anchor="middle">100</text>
<line x1="320.6" y1="146.3" x2="320.6" y2="148.3" stroke="#555555" stroke-width="0.8"/>
<text x="320.6" y="155.70000000000002" font-family="Liberation Sans, sans-serif" font-size="8.0" fill="#4d4d4d" stroke="#4d4d4d" stroke-width="0.22" text-anchor="middle">150</text>
<line x1="353.5" y1="146.3" x2="353.5" y2="148.3" stroke="#555555" stroke-width="0.8"/>
<text x="353.5" y="155.70000000000002" font-family="Liberation Sans, sans-serif" font-size="8.0" fill="#4d4d4d" stroke="#4d4d4d" stroke-width="0.22" text-anchor="middle">200</text>
<rect x="379.4" y="28.5" width="139.20000000000005" height="120.9" fill="#fff"/>
<line x1="390.25" y1="28.5" x2="390.25" y2="149.4" stroke="#f0f0f0" stroke-width="0.7"/>
<line x1="420.25" y1="28.5" x2="420.25" y2="149.4" stroke="#f0f0f0" stroke-width="0.7"/>
<line x1="450.25" y1="28.5" x2="450.25" y2="149.4" stroke="#f0f0f0" stroke-width="0.7"/>
<line x1="480.25" y1="28.5" x2="480.25" y2="149.4" stroke="#f0f0f0" stroke-width="0.7"/>
<line x1="510.25" y1="28.5" x2="510.25" y2="149.4" stroke="#f0f0f0" stroke-width="0.7"/>
<line x1="379.4" y1="34.75" x2="518.6" y2="34.75" stroke="#f0f0f0" stroke-width="0.7"/>
<line x1="379.4" y1="68.05" x2="518.6" y2="68.05" stroke="#f0f0f0" stroke-width="0.7"/>
<line x1="379.4" y1="101.35" x2="518.6" y2="101.35" stroke="#f0f0f0" stroke-width="0.7"/>
<line x1="379.4" y1="134.65" x2="518.6" y2="134.65" stroke="#f0f0f0" stroke-width="0.7"/>
<line x1="405.25" y1="28.5" x2="405.25" y2="149.4" stroke="#ececec" stroke-width="0.9"/>
<line x1="435.25" y1="28.5" x2="435.25" y2="149.4" stroke="#ececec" stroke-width="0.9"/>
<line x1="465.25" y1="28.5" x2="465.25" y2="149.4" stroke="#ececec" stroke-width="0.9"/>
<line x1="495.25" y1="28.5" x2="495.25" y2="149.4" stroke="#ececec" stroke-width="0.9"/>
<line x1="379.4" y1="118" x2="518.6" y2="118" stroke="#ececec" stroke-width="0.9"/>
<line x1="379.4" y1="84.7" x2="518.6" y2="84.7" stroke="#ececec" stroke-width="0.9"/>
<line x1="379.4" y1="51.4" x2="518.6" y2="51.4" stroke="#ececec" stroke-width="0.9"/>
<line x1="386.1" y1="38.00" x2="513" y2="37.70" stroke="#0000ff" stroke-width="0.65" stroke-opacity="0.85"/>
<line x1="386.1" y1="38.00" x2="513" y2="37.70" stroke="#2100fc" stroke-width="0.65" stroke-opacity="0.85"/>
<line x1="386.1" y1="38.00" x2="513" y2="37.70" stroke="#3100fa" stroke-width="0.65" stroke-opacity="0.85"/>
<line x1="386.1" y1="38.00" x2="513" y2="37.70" stroke="#3c00f7" stroke-width="0.65" stroke-opacity="0.85"/>
<line x1="386.1" y1="38.00" x2="513" y2="37.70" stroke="#4500f5" stroke-width="0.65" stroke-opacity="0.85"/>
<line x1="386.1" y1="38.00" x2="513" y2="37.70" stroke="#4d00f2" stroke-width="0.65" stroke-opacity="0.85"/>
<line x1="386.1" y1="38.00" x2="513" y2="37.70" stroke="#5400ef" stroke-width="0.65" stroke-opacity="0.85"/>
<line x1="386.1" y1="38.70" x2="513" y2="38.03" stroke="#5b00ed" stroke-width="0.65" stroke-opacity="0.85"/>
<line x1="386.1" y1="39.24" x2="513" y2="38.22" stroke="#6100ea" stroke-width="0.65" stroke-opacity="0.85"/>
<line x1="386.1" y1="40.89" x2="513" y2="38.91" stroke="#6600e8" stroke-width="0.65" stroke-opacity="0.85"/>
<line x1="386.1" y1="42.52" x2="513" y2="38.57" stroke="#6b00e5" stroke-width="0.65" stroke-opacity="0.85"/>
<line x1="386.1" y1="43.95" x2="513" y2="40.18" stroke="#7000e2" stroke-width="0.65" stroke-opacity="0.85"/>
<line x1="386.1" y1="45.51" x2="513" y2="39.44" stroke="#7400e0" stroke-width="0.65" stroke-opacity="0.85"/>
<line x1="386.1" y1="48.45" x2="513" y2="41.43" stroke="#7800dd" stroke-width="0.65" stroke-opacity="0.85"/>
<line x1="386.1" y1="50.46" x2="513" y2="41.86" stroke="#7c00db" stroke-width="0.65" stroke-opacity="0.85"/>
<line x1="386.1" y1="52.47" x2="513" y2="40.53" stroke="#8000d8" stroke-width="0.65" stroke-opacity="0.85"/>
<line x1="386.1" y1="54.38" x2="513" y2="43.35" stroke="#8300d6" stroke-width="0.65" stroke-opacity="0.85"/>
<line x1="386.1" y1="56.66" x2="513" y2="42.22" stroke="#8700d3" stroke-width="0.65" stroke-opacity="0.85"/>
<line x1="386.1" y1="58.83" x2="513" y2="41.69" stroke="#8a00d0" stroke-width="0.65" stroke-opacity="0.85"/>
<line x1="386.1" y1="62.20" x2="513" y2="46.73" stroke="#8d00ce" stroke-width="0.65" stroke-opacity="0.85"/>
<line x1="386.1" y1="64.11" x2="513" y2="46.24" stroke="#9000cb" stroke-width="0.65" stroke-opacity="0.85"/>
<line x1="386.1" y1="67.15" x2="513" y2="46.12" stroke="#9300c9" stroke-width="0.65" stroke-opacity="0.85"/>
<line x1="386.1" y1="69.01" x2="513" y2="47.91" stroke="#9600c6" stroke-width="0.65" stroke-opacity="0.85"/>
<line x1="386.1" y1="72.32" x2="513" y2="49.73" stroke="#9900c4" stroke-width="0.65" stroke-opacity="0.85"/>
<line x1="386.1" y1="74.46" x2="513" y2="50.55" stroke="#9c00c1" stroke-width="0.65" stroke-opacity="0.85"/>
<line x1="386.1" y1="77.47" x2="513" y2="50.47" stroke="#9e00bf" stroke-width="0.65" stroke-opacity="0.85"/>
<line x1="386.1" y1="79.55" x2="513" y2="54.36" stroke="#a100bc" stroke-width="0.65" stroke-opacity="0.85"/>
<line x1="386.1" y1="82.58" x2="513" y2="56.29" stroke="#a300ba" stroke-width="0.65" stroke-opacity="0.85"/>
<line x1="386.1" y1="84.29" x2="513" y2="55.01" stroke="#a600b7" stroke-width="0.65" stroke-opacity="0.85"/>
<line x1="386.1" y1="88.28" x2="513" y2="59.10" stroke="#a800b5" stroke-width="0.65" stroke-opacity="0.85"/>
<line x1="386.1" y1="89.83" x2="513" y2="61.84" stroke="#aa00b2" stroke-width="0.65" stroke-opacity="0.85"/>
<line x1="386.1" y1="92.61" x2="513" y2="59.92" stroke="#ac00b0" stroke-width="0.65" stroke-opacity="0.85"/>
<line x1="386.1" y1="93.75" x2="513" y2="63.88" stroke="#ae00ad" stroke-width="0.65" stroke-opacity="0.85"/>
<line x1="386.1" y1="96.94" x2="513" y2="64.72" stroke="#b100ab" stroke-width="0.65" stroke-opacity="0.85"/>
<line x1="386.1" y1="97.42" x2="513" y2="66.19" stroke="#b300a8" stroke-width="0.65" stroke-opacity="0.85"/>
<line x1="386.1" y1="100.18" x2="513" y2="66.30" stroke="#b500a6" stroke-width="0.65" stroke-opacity="0.85"/>
<line x1="386.1" y1="101.28" x2="513" y2="66.98" stroke="#b700a3" stroke-width="0.65" stroke-opacity="0.85"/>
<line x1="386.1" y1="103.57" x2="513" y2="67.06" stroke="#b800a1" stroke-width="0.65" stroke-opacity="0.85"/>
<line x1="386.1" y1="103.94" x2="513" y2="70.72" stroke="#ba009e" stroke-width="0.65" stroke-opacity="0.85"/>
<line x1="386.1" y1="106.49" x2="513" y2="68.69" stroke="#bc009c" stroke-width="0.65" stroke-opacity="0.85"/>
<line x1="386.1" y1="107.69" x2="513" y2="69.96" stroke="#be009a" stroke-width="0.65" stroke-opacity="0.85"/>
<line x1="386.1" y1="110.20" x2="513" y2="71.11" stroke="#c00097" stroke-width="0.65" stroke-opacity="0.85"/>
<line x1="386.1" y1="109.94" x2="513" y2="74.49" stroke="#c10095" stroke-width="0.65" stroke-opacity="0.85"/>
<line x1="386.1" y1="111.54" x2="513" y2="74.33" stroke="#c30092" stroke-width="0.65" stroke-opacity="0.85"/>
<line x1="386.1" y1="111.81" x2="513" y2="75.17" stroke="#c50090" stroke-width="0.65" stroke-opacity="0.85"/>
<line x1="386.1" y1="114.94" x2="513" y2="77.08" stroke="#c6008d" stroke-width="0.65" stroke-opacity="0.85"/>
<line x1="386.1" y1="115.34" x2="513" y2="76.88" stroke="#c8008b" stroke-width="0.65" stroke-opacity="0.85"/>
<line x1="386.1" y1="116.00" x2="513" y2="80.85" stroke="#ca0088" stroke-width="0.65" stroke-opacity="0.85"/>
<line x1="386.1" y1="116.52" x2="513" y2="80.62" stroke="#cb0086" stroke-width="0.65" stroke-opacity="0.85"/>
<line x1="386.1" y1="117.52" x2="513" y2="81.04" stroke="#cd0084" stroke-width="0.65" stroke-opacity="0.85"/>
<line x1="386.1" y1="118.49" x2="513" y2="80.44" stroke="#ce0081" stroke-width="0.65" stroke-opacity="0.85"/>
<line x1="386.1" y1="119.50" x2="513" y2="80.09" stroke="#cf007f" stroke-width="0.65" stroke-opacity="0.85"/>
<line x1="386.1" y1="119.77" x2="513" y2="84.59" stroke="#d1007c" stroke-width="0.65" stroke-opacity="0.85"/>
<line x1="386.1" y1="120.41" x2="513" y2="85.57" stroke="#d2007a" stroke-width="0.65" stroke-opacity="0.85"/>
<line x1="386.1" y1="122.16" x2="513" y2="85.37" stroke="#d40078" stroke-width="0.65" stroke-opacity="0.85"/>
<line x1="386.1" y1="122.58" x2="513" y2="85.67" stroke="#d50075" stroke-width="0.65" stroke-opacity="0.85"/>
<line x1="386.1" y1="124.53" x2="513" y2="84.86" stroke="#d60073" stroke-width="0.65" stroke-opacity="0.85"/>
<line x1="386.1" y1="124.04" x2="513" y2="86.62" stroke="#d80070" stroke-width="0.65" stroke-opacity="0.85"/>
<line x1="386.1" y1="124.47" x2="513" y2="86.54" stroke="#d9006e" stroke-width="0.65" stroke-opacity="0.85"/>
<line x1="386.1" y1="126.08" x2="513" y2="91.08" stroke="#da006b" stroke-width="0.65" stroke-opacity="0.85"/>
<line x1="386.1" y1="126.09" x2="513" y2="90.18" stroke="#dc0069" stroke-width="0.65" stroke-opacity="0.85"/>
<line x1="386.1" y1="128.21" x2="513" y2="89.91" stroke="#dd0067" stroke-width="0.65" stroke-opacity="0.85"/>
<line x1="386.1" y1="128.29" x2="513" y2="89.73" stroke="#de0064" stroke-width="0.65" stroke-opacity="0.85"/>
<line x1="386.1" y1="128.30" x2="513" y2="94.24" stroke="#df0062" stroke-width="0.65" stroke-opacity="0.85"/>
<line x1="386.1" y1="129.36" x2="513" y2="92.56" stroke="#e1005f" stroke-width="0.65" stroke-opacity="0.85"/>
<line x1="386.1" y1="130.60" x2="513" y2="92.57" stroke="#e2005d" stroke-width="0.65" stroke-opacity="0.85"/>
<line x1="386.1" y1="130.53" x2="513" y2="96.98" stroke="#e3005b" stroke-width="0.65" stroke-opacity="0.85"/>
<line x1="386.1" y1="131.24" x2="513" y2="95.30" stroke="#e40058" stroke-width="0.65" stroke-opacity="0.85"/>
<line x1="386.1" y1="130.84" x2="513" y2="98.10" stroke="#e50056" stroke-width="0.65" stroke-opacity="0.85"/>
<line x1="386.1" y1="130.03" x2="513" y2="95.39" stroke="#e60053" stroke-width="0.65" stroke-opacity="0.85"/>
<line x1="386.1" y1="131.62" x2="513" y2="98.17" stroke="#e70051" stroke-width="0.65" stroke-opacity="0.85"/>
<line x1="386.1" y1="132.12" x2="513" y2="97.79" stroke="#e9004e" stroke-width="0.65" stroke-opacity="0.85"/>
<line x1="386.1" y1="130.50" x2="513" y2="97.25" stroke="#ea004c" stroke-width="0.65" stroke-opacity="0.85"/>
<line x1="386.1" y1="130.81" x2="513" y2="101.48" stroke="#eb0049" stroke-width="0.65" stroke-opacity="0.85"/>
<line x1="386.1" y1="132.80" x2="513" y2="102.75" stroke="#ec0047" stroke-width="0.65" stroke-opacity="0.85"/>
<line x1="386.1" y1="132.24" x2="513" y2="103.67" stroke="#ed0044" stroke-width="0.65" stroke-opacity="0.85"/>
<line x1="386.1" y1="131.66" x2="513" y2="104.11" stroke="#ee0042" stroke-width="0.65" stroke-opacity="0.85"/>
<line x1="386.1" y1="131.77" x2="513" y2="106.08" stroke="#ef003f" stroke-width="0.65" stroke-opacity="0.85"/>
<line x1="386.1" y1="131.77" x2="513" y2="105.82" stroke="#f0003d" stroke-width="0.65" stroke-opacity="0.85"/>
<line x1="386.1" y1="131.32" x2="513" y2="102.85" stroke="#f1003a" stroke-width="0.65" stroke-opacity="0.85"/>
<line x1="386.1" y1="132.06" x2="513" y2="108.19" stroke="#f20037" stroke-width="0.65" stroke-opacity="0.85"/>
<line x1="386.1" y1="133.17" x2="513" y2="108.95" stroke="#f30034" stroke-width="0.65" stroke-opacity="0.85"/>
<line x1="386.1" y1="133.54" x2="513" y2="109.67" stroke="#f40032" stroke-width="0.65" stroke-opacity="0.85"/>
<line x1="386.1" y1="132.15" x2="513" y2="109.34" stroke="#f5002f" stroke-width="0.65" stroke-opacity="0.85"/>
<line x1="386.1" y1="132.78" x2="513" y2="109.18" stroke="#f6002c" stroke-width="0.65" stroke-opacity="0.85"/>
<line x1="386.1" y1="132.74" x2="513" y2="110.35" stroke="#f70029" stroke-width="0.65" stroke-opacity="0.85"/>
<line x1="386.1" y1="131.94" x2="513" y2="114.68" stroke="#f80026" stroke-width="0.65" stroke-opacity="0.85"/>
<line x1="386.1" y1="132.15" x2="513" y2="114.69" stroke="#f90022" stroke-width="0.65" stroke-opacity="0.85"/>
<line x1="386.1" y1="133.80" x2="513" y2="115.41" stroke="#fa001f" stroke-width="0.65" stroke-opacity="0.85"/>
<line x1="386.1" y1="133.77" x2="513" y2="115.18" stroke="#fa001b" stroke-width="0.65" stroke-opacity="0.85"/>
<line x1="386.1" y1="133.48" x2="513" y2="117.43" stroke="#fb0017" stroke-width="0.65" stroke-opacity="0.85"/>
<line x1="386.1" y1="132.31" x2="513" y2="120.78" stroke="#fc0013" stroke-width="0.65" stroke-opacity="0.85"/>
<line x1="386.1" y1="134.02" x2="513" y2="118.41" stroke="#fd000d" stroke-width="0.65" stroke-opacity="0.85"/>
<line x1="386.1" y1="133.42" x2="513" y2="123.45" stroke="#fe0007" stroke-width="0.65" stroke-opacity="0.85"/>
<line x1="386.1" y1="133.47" x2="513" y2="123.04" stroke="#ff0000" stroke-width="0.65" stroke-opacity="0.85"/>
<rect x="379.4" y="28.5" width="139.20000000000005" height="120.9" fill="none" stroke="#a6a6a6" stroke-width="1"/>
<line x1="377.4" y1="118" x2="379.4" y2="118" stroke="#555555" stroke-width="0.8"/>
<text x="376.4" y="120.9" font-family="Liberation Sans, sans-serif" font-size="8.0" fill="#4d4d4d" stroke="#4d4d4d" stroke-width="0.22" text-anchor="end">5</text>
<line x1="377.4" y1="84.7" x2="379.4" y2="84.7" stroke="#555555" stroke-width="0.8"/>
<text x="376.4" y="87.60000000000001" font-family="Liberation Sans, sans-serif" font-size="8.0" fill="#4d4d4d" stroke="#4d4d4d" stroke-width="0.22" text-anchor="end">10</text>
<line x1="377.4" y1="51.4" x2="379.4" y2="51.4" stroke="#555555" stroke-width="0.8"/>
<text x="376.4" y="54.3" font-family="Liberation Sans, sans-serif" font-size="8.0" fill="#4d4d4d" stroke="#4d4d4d" stroke-width="0.22" text-anchor="end">15</text>
<line x1="405.25" y1="149.4" x2="405.25" y2="151.4" stroke="#555555" stroke-width="0.8"/>
<text x="405.25" y="158.8" font-family="Liberation Sans, sans-serif" font-size="8.0" fill="#4d4d4d" stroke="#4d4d4d" stroke-width="0.22" text-anchor="middle">20</text>
<line x1="435.25" y1="149.4" x2="435.25" y2="151.4" stroke="#555555" stroke-width="0.8"/>
<text x="435.25" y="158.8" font-family="Liberation Sans, sans-serif" font-size="8.0" fill="#4d4d4d" stroke="#4d4d4d" stroke-width="0.22" text-anchor="middle">30</text>
<line x1="465.25" y1="149.4" x2="465.25" y2="151.4" stroke="#555555" stroke-width="0.8"/>
<text x="465.25" y="158.8" font-family="Liberation Sans, sans-serif" font-size="8.0" fill="#4d4d4d" stroke="#4d4d4d" stroke-width="0.22" text-anchor="middle">40</text>
<line x1="495.25" y1="149.4" x2="495.25" y2="151.4" stroke="#555555" stroke-width="0.8"/>
<text x="495.25" y="158.8" font-family="Liberation Sans, sans-serif" font-size="8.0" fill="#4d4d4d" stroke="#4d4d4d" stroke-width="0.22" text-anchor="middle">50</text>
<rect x="543.5" y="29.8" width="138.89999999999998" height="121.50000000000001" fill="#fff"/>
<line x1="553.4499999999999" y1="29.8" x2="553.4499999999999" y2="151.3" stroke="#f0f0f0" stroke-width="0.7"/>
<line x1="593.15" y1="29.8" x2="593.15" y2="151.3" stroke="#f0f0f0" stroke-width="0.7"/>
<line x1="632.9" y1="29.8" x2="632.9" y2="151.3" stroke="#f0f0f0" stroke-width="0.7"/>
<line x1="672.65" y1="29.8" x2="672.65" y2="151.3" stroke="#f0f0f0" stroke-width="0.7"/>
<line x1="543.5" y1="47.05" x2="682.4" y2="47.05" stroke="#f0f0f0" stroke-width="0.7"/>
<line x1="543.5" y1="81.55" x2="682.4" y2="81.55" stroke="#f0f0f0" stroke-width="0.7"/>
<line x1="543.5" y1="116.15" x2="682.4" y2="116.15" stroke="#f0f0f0" stroke-width="0.7"/>
<line x1="543.5" y1="150.75" x2="682.4" y2="150.75" stroke="#f0f0f0" stroke-width="0.7"/>
<line x1="573.3" y1="29.8" x2="573.3" y2="151.3" stroke="#ececec" stroke-width="0.9"/>
<line x1="613" y1="29.8" x2="613" y2="151.3" stroke="#ececec" stroke-width="0.9"/>
<line x1="652.8" y1="29.8" x2="652.8" y2="151.3" stroke="#ececec" stroke-width="0.9"/>
<line x1="543.5" y1="133.5" x2="682.4" y2="133.5" stroke="#ececec" stroke-width="0.9"/>
<line x1="543.5" y1="98.8" x2="682.4" y2="98.8" stroke="#ececec" stroke-width="0.9"/>
<line x1="543.5" y1="64.3" x2="682.4" y2="64.3" stroke="#ececec" stroke-width="0.9"/>
<line x1="550" y1="43.50" x2="676.8" y2="41.80" stroke="#0000ff" stroke-width="0.65" stroke-opacity="0.85"/>
<line x1="550" y1="43.50" x2="676.8" y2="41.80" stroke="#2100fc" stroke-width="0.65" stroke-opacity="0.85"/>
<line x1="550" y1="43.50" x2="676.8" y2="41.80" stroke="#3100fa" stroke-width="0.65" stroke-opacity="0.85"/>
<line x1="550" y1="43.50" x2="676.8" y2="41.80" stroke="#3c00f7" stroke-width="0.65" stroke-opacity="0.85"/>
<line x1="550" y1="43.50" x2="676.8" y2="41.80" stroke="#4500f5" stroke-width="0.65" stroke-opacity="0.85"/>
<line x1="550" y1="43.50" x2="676.8" y2="41.80" stroke="#4d00f2" stroke-width="0.65" stroke-opacity="0.85"/>
<line x1="550" y1="43.50" x2="676.8" y2="41.80" stroke="#5400ef" stroke-width="0.65" stroke-opacity="0.85"/>
<line x1="550" y1="44.20" x2="676.8" y2="42.10" stroke="#5b00ed" stroke-width="0.65" stroke-opacity="0.85"/>
<line x1="550" y1="44.75" x2="676.8" y2="42.28" stroke="#6100ea" stroke-width="0.65" stroke-opacity="0.85"/>
<line x1="550" y1="46.56" x2="676.8" y2="42.50" stroke="#6600e8" stroke-width="0.65" stroke-opacity="0.85"/>
<line x1="550" y1="48.19" x2="676.8" y2="43.42" stroke="#6b00e5" stroke-width="0.65" stroke-opacity="0.85"/>
<line x1="550" y1="49.78" x2="676.8" y2="44.20" stroke="#7000e2" stroke-width="0.65" stroke-opacity="0.85"/>
<line x1="550" y1="52.26" x2="676.8" y2="44.56" stroke="#7400e0" stroke-width="0.65" stroke-opacity="0.85"/>
<line x1="550" y1="54.58" x2="676.8" y2="44.35" stroke="#7800dd" stroke-width="0.65" stroke-opacity="0.85"/>
<line x1="550" y1="57.03" x2="676.8" y2="45.13" stroke="#7c00db" stroke-width="0.65" stroke-opacity="0.85"/>
<line x1="550" y1="59.74" x2="676.8" y2="43.33" stroke="#8000d8" stroke-width="0.65" stroke-opacity="0.85"/>
<line x1="550" y1="63.86" x2="676.8" y2="45.37" stroke="#8300d6" stroke-width="0.65" stroke-opacity="0.85"/>
<line x1="550" y1="65.88" x2="676.8" y2="47.14" stroke="#8700d3" stroke-width="0.65" stroke-opacity="0.85"/>
<line x1="550" y1="69.37" x2="676.8" y2="45.46" stroke="#8a00d0" stroke-width="0.65" stroke-opacity="0.85"/>
<line x1="550" y1="72.27" x2="676.8" y2="46.61" stroke="#8d00ce" stroke-width="0.65" stroke-opacity="0.85"/>
<line x1="550" y1="75.75" x2="676.8" y2="49.07" stroke="#9000cb" stroke-width="0.65" stroke-opacity="0.85"/>
<line x1="550" y1="77.91" x2="676.8" y2="48.99" stroke="#9300c9" stroke-width="0.65" stroke-opacity="0.85"/>
<line x1="550" y1="81.00" x2="676.8" y2="49.81" stroke="#9600c6" stroke-width="0.65" stroke-opacity="0.85"/>
<line x1="550" y1="83.18" x2="676.8" y2="52.10" stroke="#9900c4" stroke-width="0.65" stroke-opacity="0.85"/>
<line x1="550" y1="87.48" x2="676.8" y2="52.67" stroke="#9c00c1" stroke-width="0.65" stroke-opacity="0.85"/>
<line x1="550" y1="89.19" x2="676.8" y2="55.90" stroke="#9e00bf" stroke-width="0.65" stroke-opacity="0.85"/>
<line x1="550" y1="92.47" x2="676.8" y2="57.38" stroke="#a100bc" stroke-width="0.65" stroke-opacity="0.85"/>
<line x1="550" y1="94.67" x2="676.8" y2="59.68" stroke="#a300ba" stroke-width="0.65" stroke-opacity="0.85"/>
<line x1="550" y1="97.15" x2="676.8" y2="59.48" stroke="#a600b7" stroke-width="0.65" stroke-opacity="0.85"/>
<line x1="550" y1="100.48" x2="676.8" y2="60.23" stroke="#a800b5" stroke-width="0.65" stroke-opacity="0.85"/>
<line x1="550" y1="102.41" x2="676.8" y2="64.36" stroke="#aa00b2" stroke-width="0.65" stroke-opacity="0.85"/>
<line x1="550" y1="103.81" x2="676.8" y2="67.62" stroke="#ac00b0" stroke-width="0.65" stroke-opacity="0.85"/>
<line x1="550" y1="104.49" x2="676.8" y2="67.15" stroke="#ae00ad" stroke-width="0.65" stroke-opacity="0.85"/>
<line x1="550" y1="105.73" x2="676.8" y2="67.21" stroke="#b100ab" stroke-width="0.65" stroke-opacity="0.85"/>
<line x1="550" y1="107.86" x2="676.8" y2="69.45" stroke="#b300a8" stroke-width="0.65" stroke-opacity="0.85"/>
<line x1="550" y1="108.78" x2="676.8" y2="68.67" stroke="#b500a6" stroke-width="0.65" stroke-opacity="0.85"/>
<line x1="550" y1="111.17" x2="676.8" y2="72.43" stroke="#b700a3" stroke-width="0.65" stroke-opacity="0.85"/>
<line x1="550" y1="112.27" x2="676.8" y2="72.29" stroke="#b800a1" stroke-width="0.65" stroke-opacity="0.85"/>
<line x1="550" y1="111.67" x2="676.8" y2="72.23" stroke="#ba009e" stroke-width="0.65" stroke-opacity="0.85"/>
<line x1="550" y1="113.26" x2="676.8" y2="76.86" stroke="#bc009c" stroke-width="0.65" stroke-opacity="0.85"/>
<line x1="550" y1="114.50" x2="676.8" y2="76.52" stroke="#be009a" stroke-width="0.65" stroke-opacity="0.85"/>
<line x1="550" y1="115.28" x2="676.8" y2="78.31" stroke="#c00097" stroke-width="0.65" stroke-opacity="0.85"/>
<line x1="550" y1="116.52" x2="676.8" y2="78.48" stroke="#c10095" stroke-width="0.65" stroke-opacity="0.85"/>
<line x1="550" y1="117.61" x2="676.8" y2="79.04" stroke="#c30092" stroke-width="0.65" stroke-opacity="0.85"/>
<line x1="550" y1="117.53" x2="676.8" y2="79.42" stroke="#c50090" stroke-width="0.65" stroke-opacity="0.85"/>
<line x1="550" y1="118.59" x2="676.8" y2="82.37" stroke="#c6008d" stroke-width="0.65" stroke-opacity="0.85"/>
<line x1="550" y1="120.03" x2="676.8" y2="82.56" stroke="#c8008b" stroke-width="0.65" stroke-opacity="0.85"/>
<line x1="550" y1="120.77" x2="676.8" y2="82.84" stroke="#ca0088" stroke-width="0.65" stroke-opacity="0.85"/>
<line x1="550" y1="120.13" x2="676.8" y2="82.02" stroke="#cb0086" stroke-width="0.65" stroke-opacity="0.85"/>
<line x1="550" y1="121.68" x2="676.8" y2="83.20" stroke="#cd0084" stroke-width="0.65" stroke-opacity="0.85"/>
<line x1="550" y1="121.89" x2="676.8" y2="86.22" stroke="#ce0081" stroke-width="0.65" stroke-opacity="0.85"/>
<line x1="550" y1="123.28" x2="676.8" y2="85.78" stroke="#cf007f" stroke-width="0.65" stroke-opacity="0.85"/>
<line x1="550" y1="123.28" x2="676.8" y2="86.14" stroke="#d1007c" stroke-width="0.65" stroke-opacity="0.85"/>
<line x1="550" y1="123.44" x2="676.8" y2="90.13" stroke="#d2007a" stroke-width="0.65" stroke-opacity="0.85"/>
<line x1="550" y1="125.19" x2="676.8" y2="88.61" stroke="#d40078" stroke-width="0.65" stroke-opacity="0.85"/>
<line x1="550" y1="125.88" x2="676.8" y2="90.27" stroke="#d50075" stroke-width="0.65" stroke-opacity="0.85"/>
<line x1="550" y1="126.60" x2="676.8" y2="92.19" stroke="#d60073" stroke-width="0.65" stroke-opacity="0.85"/>
<line x1="550" y1="126.81" x2="676.8" y2="91.63" stroke="#d80070" stroke-width="0.65" stroke-opacity="0.85"/>
<line x1="550" y1="128.37" x2="676.8" y2="95.52" stroke="#d9006e" stroke-width="0.65" stroke-opacity="0.85"/>
<line x1="550" y1="128.36" x2="676.8" y2="96.77" stroke="#da006b" stroke-width="0.65" stroke-opacity="0.85"/>
<line x1="550" y1="127.69" x2="676.8" y2="97.33" stroke="#dc0069" stroke-width="0.65" stroke-opacity="0.85"/>
<line x1="550" y1="129.96" x2="676.8" y2="98.27" stroke="#dd0067" stroke-width="0.65" stroke-opacity="0.85"/>
<line x1="550" y1="130.36" x2="676.8" y2="95.14" stroke="#de0064" stroke-width="0.65" stroke-opacity="0.85"/>
<line x1="550" y1="129.61" x2="676.8" y2="96.38" stroke="#df0062" stroke-width="0.65" stroke-opacity="0.85"/>
<line x1="550" y1="130.68" x2="676.8" y2="96.62" stroke="#e1005f" stroke-width="0.65" stroke-opacity="0.85"/>
<line x1="550" y1="131.57" x2="676.8" y2="99.98" stroke="#e2005d" stroke-width="0.65" stroke-opacity="0.85"/>
<line x1="550" y1="130.99" x2="676.8" y2="103.22" stroke="#e3005b" stroke-width="0.65" stroke-opacity="0.85"/>
<line x1="550" y1="132.16" x2="676.8" y2="102.46" stroke="#e40058" stroke-width="0.65" stroke-opacity="0.85"/>
<line x1="550" y1="133.19" x2="676.8" y2="101.28" stroke="#e50056" stroke-width="0.65" stroke-opacity="0.85"/>
<line x1="550" y1="133.46" x2="676.8" y2="105.47" stroke="#e60053" stroke-width="0.65" stroke-opacity="0.85"/>
<line x1="550" y1="132.80" x2="676.8" y2="104.06" stroke="#e70051" stroke-width="0.65" stroke-opacity="0.85"/>
<line x1="550" y1="134.27" x2="676.8" y2="102.85" stroke="#e9004e" stroke-width="0.65" stroke-opacity="0.85"/>
<line x1="550" y1="134.71" x2="676.8" y2="107.60" stroke="#ea004c" stroke-width="0.65" stroke-opacity="0.85"/>
<line x1="550" y1="135.14" x2="676.8" y2="107.05" stroke="#eb0049" stroke-width="0.65" stroke-opacity="0.85"/>
<line x1="550" y1="134.49" x2="676.8" y2="109.80" stroke="#ec0047" stroke-width="0.65" stroke-opacity="0.85"/>
<line x1="550" y1="134.88" x2="676.8" y2="109.05" stroke="#ed0044" stroke-width="0.65" stroke-opacity="0.85"/>
<line x1="550" y1="135.03" x2="676.8" y2="110.44" stroke="#ee0042" stroke-width="0.65" stroke-opacity="0.85"/>
<line x1="550" y1="135.21" x2="676.8" y2="108.90" stroke="#ef003f" stroke-width="0.65" stroke-opacity="0.85"/>
<line x1="550" y1="136.28" x2="676.8" y2="111.15" stroke="#f0003d" stroke-width="0.65" stroke-opacity="0.85"/>
<line x1="550" y1="135.78" x2="676.8" y2="110.24" stroke="#f1003a" stroke-width="0.65" stroke-opacity="0.85"/>
<line x1="550" y1="135.39" x2="676.8" y2="111.78" stroke="#f20037" stroke-width="0.65" stroke-opacity="0.85"/>
<line x1="550" y1="135.60" x2="676.8" y2="112.05" stroke="#f30034" stroke-width="0.65" stroke-opacity="0.85"/>
<line x1="550" y1="136.41" x2="676.8" y2="112.84" stroke="#f40032" stroke-width="0.65" stroke-opacity="0.85"/>
<line x1="550" y1="136.85" x2="676.8" y2="117.05" stroke="#f5002f" stroke-width="0.65" stroke-opacity="0.85"/>
<line x1="550" y1="136.51" x2="676.8" y2="116.02" stroke="#f6002c" stroke-width="0.65" stroke-opacity="0.85"/>
<line x1="550" y1="137.09" x2="676.8" y2="119.52" stroke="#f70029" stroke-width="0.65" stroke-opacity="0.85"/>
<line x1="550" y1="136.77" x2="676.8" y2="120.56" stroke="#f80026" stroke-width="0.65" stroke-opacity="0.85"/>
<line x1="550" y1="137.42" x2="676.8" y2="120.56" stroke="#f90022" stroke-width="0.65" stroke-opacity="0.85"/>
<line x1="550" y1="137.09" x2="676.8" y2="121.79" stroke="#fa001f" stroke-width="0.65" stroke-opacity="0.85"/>
<line x1="550" y1="137.20" x2="676.8" y2="121.28" stroke="#fa001b" stroke-width="0.65" stroke-opacity="0.85"/>
<line x1="550" y1="137.03" x2="676.8" y2="125.79" stroke="#fb0017" stroke-width="0.65" stroke-opacity="0.85"/>
<line x1="550" y1="138.76" x2="676.8" y2="125.27" stroke="#fc0013" stroke-width="0.65" stroke-opacity="0.85"/>
<line x1="550" y1="138.17" x2="676.8" y2="127.11" stroke="#fd000d" stroke-width="0.65" stroke-opacity="0.85"/>
<line x1="550" y1="138.59" x2="676.8" y2="126.65" stroke="#fe0007" stroke-width="0.65" stroke-opacity="0.85"/>
<line x1="550" y1="137.85" x2="676.8" y2="129.89" stroke="#ff0000" stroke-width="0.65" stroke-opacity="0.85"/>
<rect x="543.5" y="29.8" width="138.89999999999998" height="121.50000000000001" fill="none" stroke="#a6a6a6" stroke-width="1"/>
<line x1="541.5" y1="133.5" x2="543.5" y2="133.5" stroke="#555555" stroke-width="0.8"/>
<text x="540.5" y="136.4" font-family="Liberation Sans, sans-serif" font-size="8.0" fill="#4d4d4d" stroke="#4d4d4d" stroke-width="0.22" text-anchor="end">5</text>
<line x1="541.5" y1="98.8" x2="543.5" y2="98.8" stroke="#555555" stroke-width="0.8"/>
<text x="540.5" y="101.7" font-family="Liberation Sans, sans-serif" font-size="8.0" fill="#4d4d4d" stroke="#4d4d4d" stroke-width="0.22" text-anchor="end">10</text>
<line x1="541.5" y1="64.3" x2="543.5" y2="64.3" stroke="#555555" stroke-width="0.8"/>
<text x="540.5" y="67.2" font-family="Liberation Sans, sans-serif" font-size="8.0" fill="#4d4d4d" stroke="#4d4d4d" stroke-width="0.22" text-anchor="end">15</text>
<line x1="573.3" y1="151.3" x2="573.3" y2="153.3" stroke="#555555" stroke-width="0.8"/>
<text x="573.3" y="160.70000000000002" font-family="Liberation Sans, sans-serif" font-size="8.0" fill="#4d4d4d" stroke="#4d4d4d" stroke-width="0.22" text-anchor="middle">0.5</text>
<line x1="613" y1="151.3" x2="613" y2="153.3" stroke="#555555" stroke-width="0.8"/>
<text x="613" y="160.70000000000002" font-family="Liberation Sans, sans-serif" font-size="8.0" fill="#4d4d4d" stroke="#4d4d4d" stroke-width="0.22" text-anchor="middle">1.0</text>
<line x1="652.8" y1="151.3" x2="652.8" y2="153.3" stroke="#555555" stroke-width="0.8"/>
<text x="652.8" y="160.70000000000002" font-family="Liberation Sans, sans-serif" font-size="8.0" fill="#4d4d4d" stroke="#4d4d4d" stroke-width="0.22" text-anchor="middle">1.5</text>
<rect x="54.6" y="205.4" width="136.9" height="121.1" fill="#fff"/>
<line x1="70.9" y1="205.4" x2="70.9" y2="326.5" stroke="#f0f0f0" stroke-width="0.7"/>
<line x1="104.1" y1="205.4" x2="104.1" y2="326.5" stroke="#f0f0f0" stroke-width="0.7"/>
<line x1="137.25" y1="205.4" x2="137.25" y2="326.5" stroke="#f0f0f0" stroke-width="0.7"/>
<line x1="170.4" y1="205.4" x2="170.4" y2="326.5" stroke="#f0f0f0" stroke-width="0.7"/>
<line x1="54.6" y1="216.75" x2="191.5" y2="216.75" stroke="#f0f0f0" stroke-width="0.7"/>
<line x1="54.6" y1="253.05" x2="191.5" y2="253.05" stroke="#f0f0f0" stroke-width="0.7"/>
<line x1="54.6" y1="289.4" x2="191.5" y2="289.4" stroke="#f0f0f0" stroke-width="0.7"/>
<line x1="54.6" y1="325.75" x2="191.5" y2="325.75" stroke="#f0f0f0" stroke-width="0.7"/>
<line x1="87.5" y1="205.4" x2="87.5" y2="326.5" stroke="#ececec" stroke-width="0.9"/>
<line x1="120.7" y1="205.4" x2="120.7" y2="326.5" stroke="#ececec" stroke-width="0.9"/>
<line x1="153.8" y1="205.4" x2="153.8" y2="326.5" stroke="#ececec" stroke-width="0.9"/>
<line x1="187" y1="205.4" x2="187" y2="326.5" stroke="#ececec" stroke-width="0.9"/>
<line x1="54.6" y1="307.6" x2="191.5" y2="307.6" stroke="#ececec" stroke-width="0.9"/>
<line x1="54.6" y1="271.2" x2="191.5" y2="271.2" stroke="#ececec" stroke-width="0.9"/>
<line x1="54.6" y1="234.9" x2="191.5" y2="234.9" stroke="#ececec" stroke-width="0.9"/>
<polygon points="59.80,305.80 64.00,305.00 67.30,303.30 69.80,300.80 72.30,297.50 74.00,295.00 75.70,295.80 77.30,292.50 79.00,288.30 80.70,285.00 82.30,281.70 84.00,279.20 85.70,275.00 87.30,269.20 89.00,268.30 91.00,265.00 94.00,253.30 95.70,252.50 99.00,244.20 100.70,245.80 102.30,247.50 104.00,248.00 105.70,245.80 107.30,244.70 109.00,245.00 109.80,242.00 111.50,242.50 113.20,240.00 114.80,240.30 116.50,230.00 118.20,226.70 120.70,225.80 123.70,220.80 126.20,219.20 127.80,218.30 129.50,222.50 131.20,218.30 132.80,216.70 134.50,214.20 135.30,211.30 137.00,215.80 138.70,218.30 141.20,221.70 143.70,225.80 145.30,229.20 147.00,234.20 147.80,236.70 149.50,229.20 152.00,230.30 155.30,232.50 158.70,235.00 162.00,236.70 164.50,239.20 166.20,243.30 167.80,249.20 170.30,253.30 173.70,260.00 177.00,262.50 178.70,267.00 179.50,270.00 182.00,274.20 184.50,275.30 185.30,280.00 186.00,305.00 186.00,305.80 184.50,303.30 182.80,300.80 181.20,304.20 179.50,302.50 177.00,300.00 173.70,296.70 170.30,293.30 167.00,289.20 164.50,285.00 162.00,282.50 159.50,280.80 157.80,279.20 156.20,277.50 154.50,280.00 152.80,279.20 150.30,277.50 148.70,280.80 147.00,286.70 145.30,285.80 143.70,280.80 142.00,281.70 140.30,283.30 138.70,286.70 137.00,285.00 135.30,279.20 133.70,287.50 132.00,288.30 130.30,293.30 128.70,291.70 127.00,287.50 125.30,290.00 123.70,288.30 122.30,290.80 120.70,292.50 119.00,295.00 117.30,295.80 115.70,300.00 114.00,301.70 112.30,305.00 110.70,302.50 109.00,300.80 107.30,304.20 105.70,305.00 103.20,310.00 101.50,309.20 99.00,311.70 97.30,310.80 95.70,315.00 94.00,313.30 92.30,314.20 90.70,318.30 89.30,320.00 88.20,319.20 86.50,315.00 84.80,317.50 83.20,315.00 82.00,314.20 80.70,316.70 79.00,320.00 77.30,319.20 74.80,318.30 72.30,317.50 69.80,315.80 67.30,313.30 64.00,310.00 59.80,308.70" fill="#cdcdcd"/>
<line x1="54.6" y1="307.6" x2="191.5" y2="307.6" stroke="#444" stroke-width="0.8" stroke-dasharray="2.2,1.6"/>
<circle cx="60.70" cy="307.50" r="1.45" fill="#0c0cff" stroke="#0c0c48" stroke-width="0.45"/>
<circle cx="62.30" cy="307.50" r="1.45" fill="#0c0cff" stroke="#0c0c48" stroke-width="0.45"/>
<circle cx="64.00" cy="308.70" r="1.45" fill="#0c0cff" stroke="#0c0c48" stroke-width="0.45"/>
<circle cx="65.70" cy="308.70" r="1.45" fill="#0c0cff" stroke="#0c0c48" stroke-width="0.45"/>
<circle cx="67.30" cy="310.30" r="1.45" fill="#0c0cff" stroke="#0c0c48" stroke-width="0.45"/>
<circle cx="69.00" cy="309.20" r="1.45" fill="#0c0cff" stroke="#0c0c48" stroke-width="0.45"/>
<circle cx="70.70" cy="308.30" r="1.45" fill="#0c0cff" stroke="#0c0c48" stroke-width="0.45"/>
<circle cx="72.30" cy="307.50" r="1.45" fill="#0c0cff" stroke="#0c0c48" stroke-width="0.45"/>
<circle cx="74.00" cy="306.30" r="1.45" fill="#0c0cff" stroke="#0c0c48" stroke-width="0.45"/>
<circle cx="75.70" cy="305.00" r="1.45" fill="#0c0cff" stroke="#0c0c48" stroke-width="0.45"/>
<circle cx="77.30" cy="304.70" r="1.45" fill="#0c0cff" stroke="#0c0c48" stroke-width="0.45"/>
<circle cx="78.70" cy="305.80" r="1.45" fill="#0c0cff" stroke="#0c0c48" stroke-width="0.45"/>
<circle cx="79.58" cy="303.39" r="1.45" fill="#0c0cff" stroke="#0c0c48" stroke-width="0.45"/>
<circle cx="80.70" cy="300.30" r="1.45" fill="#0c0cff" stroke="#0c0c48" stroke-width="0.45"/>
<circle cx="82.30" cy="298.00" r="1.45" fill="#0c0cff" stroke="#0c0c48" stroke-width="0.45"/>
<circle cx="84.00" cy="295.80" r="1.45" fill="#0c0cff" stroke="#0c0c48" stroke-width="0.45"/>
<circle cx="85.30" cy="295.00" r="1.45" fill="#0c0cff" stroke="#0c0c48" stroke-width="0.45"/>
<circle cx="86.50" cy="292.00" r="1.45" fill="#0c0cff" stroke="#0c0c48" stroke-width="0.45"/>
<circle cx="88.20" cy="291.70" r="1.45" fill="#0c0cff" stroke="#0c0c48" stroke-width="0.45"/>
<circle cx="89.30" cy="294.20" r="1.45" fill="#0c0cff" stroke="#0c0c48" stroke-width="0.45"/>
<circle cx="90.30" cy="296.30" r="1.45" fill="#0c0cff" stroke="#0c0c48" stroke-width="0.45"/>
<circle cx="91.50" cy="292.00" r="1.45" fill="#0c0cff" stroke="#0c0c48" stroke-width="0.45"/>
<circle cx="93.20" cy="287.00" r="1.45" fill="#0c0cff" stroke="#0c0c48" stroke-width="0.45"/>
<circle cx="94.30" cy="282.50" r="1.45" fill="#0c0cff" stroke="#0c0c48" stroke-width="0.45"/>
<circle cx="95.70" cy="283.30" r="1.45" fill="#0c0cff" stroke="#0c0c48" stroke-width="0.45"/>
<circle cx="96.80" cy="282.20" r="1.45" fill="#0c0cff" stroke="#0c0c48" stroke-width="0.45"/>
<circle cx="97.70" cy="281.30" r="1.45" fill="#0c0cff" stroke="#0c0c48" stroke-width="0.45"/>
<circle cx="99.00" cy="277.00" r="1.45" fill="#0c0cff" stroke="#0c0c48" stroke-width="0.45"/>
<circle cx="100.70" cy="275.80" r="1.45" fill="#0c0cff" stroke="#0c0c48" stroke-width="0.45"/>
<circle cx="102.70" cy="280.00" r="1.45" fill="#0c0cff" stroke="#0c0c48" stroke-width="0.45"/>
<circle cx="103.70" cy="278.30" r="1.45" fill="#0c0cff" stroke="#0c0c48" stroke-width="0.45"/>
<circle cx="104.75" cy="276.73" r="1.45" fill="#0c0cff" stroke="#0c0c48" stroke-width="0.45"/>
<circle cx="105.70" cy="275.30" r="1.45" fill="#0c0cff" stroke="#0c0c48" stroke-width="0.45"/>
<circle cx="107.30" cy="274.20" r="1.45" fill="#0c0cff" stroke="#0c0c48" stroke-width="0.45"/>
<circle cx="109.00" cy="270.80" r="1.45" fill="#0c0cff" stroke="#0c0c48" stroke-width="0.45"/>
<circle cx="110.70" cy="271.70" r="1.45" fill="#0c0cff" stroke="#0c0c48" stroke-width="0.45"/>
<circle cx="112.00" cy="274.20" r="1.45" fill="#0c0cff" stroke="#0c0c48" stroke-width="0.45"/>
<circle cx="113.20" cy="272.00" r="1.45" fill="#0c0cff" stroke="#0c0c48" stroke-width="0.45"/>
<circle cx="114.03" cy="272.67" r="1.45" fill="#0c0cff" stroke="#0c0c48" stroke-width="0.45"/>
<circle cx="115.30" cy="273.70" r="1.45" fill="#0c0cff" stroke="#0c0c48" stroke-width="0.45"/>
<circle cx="116.50" cy="265.30" r="1.45" fill="#0c0cff" stroke="#0c0c48" stroke-width="0.45"/>
<circle cx="118.20" cy="260.80" r="1.45" fill="#0c0cff" stroke="#0c0c48" stroke-width="0.45"/>
<circle cx="119.32" cy="261.34" r="1.45" fill="#0c0cff" stroke="#0c0c48" stroke-width="0.45"/>
<circle cx="120.70" cy="262.00" r="1.45" fill="#0c0cff" stroke="#0c0c48" stroke-width="0.45"/>
<circle cx="122.30" cy="255.80" r="1.45" fill="#0c0cff" stroke="#0c0c48" stroke-width="0.45"/>
<circle cx="123.70" cy="255.00" r="1.45" fill="#0c0cff" stroke="#0c0c48" stroke-width="0.45"/>
<circle cx="125.30" cy="253.30" r="1.45" fill="#0c0cff" stroke="#0c0c48" stroke-width="0.45"/>
<circle cx="127.00" cy="253.00" r="1.45" fill="#0c0cff" stroke="#0c0c48" stroke-width="0.45"/>
<circle cx="128.70" cy="257.50" r="1.45" fill="#0c0cff" stroke="#0c0c48" stroke-width="0.45"/>
<circle cx="130.00" cy="259.20" r="1.45" fill="#0c0cff" stroke="#0c0c48" stroke-width="0.45"/>
<circle cx="131.20" cy="252.50" r="1.45" fill="#0c0cff" stroke="#0c0c48" stroke-width="0.45"/>
<circle cx="132.80" cy="253.30" r="1.45" fill="#0c0cff" stroke="#0c0c48" stroke-width="0.45"/>
<circle cx="134.00" cy="253.00" r="1.45" fill="#0c0cff" stroke="#0c0c48" stroke-width="0.45"/>
<circle cx="135.30" cy="244.20" r="1.45" fill="#0c0cff" stroke="#0c0c48" stroke-width="0.45"/>
<circle cx="136.70" cy="248.70" r="1.45" fill="#0c0cff" stroke="#0c0c48" stroke-width="0.45"/>
<circle cx="137.80" cy="251.70" r="1.45" fill="#0c0cff" stroke="#0c0c48" stroke-width="0.45"/>
<circle cx="139.50" cy="254.20" r="1.45" fill="#0c0cff" stroke="#0c0c48" stroke-width="0.45"/>
<circle cx="141.20" cy="254.20" r="1.45" fill="#0c0cff" stroke="#0c0c48" stroke-width="0.45"/>
<circle cx="142.80" cy="252.50" r="1.45" fill="#0c0cff" stroke="#0c0c48" stroke-width="0.45"/>
<circle cx="144.50" cy="257.50" r="1.45" fill="#0c0cff" stroke="#0c0c48" stroke-width="0.45"/>
<circle cx="146.20" cy="259.20" r="1.45" fill="#0c0cff" stroke="#0c0c48" stroke-width="0.45"/>
<circle cx="147.00" cy="263.00" r="1.45" fill="#0c0cff" stroke="#0c0c48" stroke-width="0.45"/>
<circle cx="148.30" cy="258.00" r="1.45" fill="#0c0cff" stroke="#0c0c48" stroke-width="0.45"/>
<circle cx="150.00" cy="252.50" r="1.45" fill="#0c0cff" stroke="#0c0c48" stroke-width="0.45"/>
<circle cx="151.70" cy="253.30" r="1.45" fill="#0c0cff" stroke="#0c0c48" stroke-width="0.45"/>
<circle cx="153.30" cy="255.00" r="1.45" fill="#0c0cff" stroke="#0c0c48" stroke-width="0.45"/>
<circle cx="154.50" cy="256.70" r="1.45" fill="#0c0cff" stroke="#0c0c48" stroke-width="0.45"/>
<circle cx="156.20" cy="255.00" r="1.45" fill="#0c0cff" stroke="#0c0c48" stroke-width="0.45"/>
<circle cx="157.80" cy="255.80" r="1.45" fill="#0c0cff" stroke="#0c0c48" stroke-width="0.45"/>
<circle cx="159.50" cy="258.30" r="1.45" fill="#0c0cff" stroke="#0c0c48" stroke-width="0.45"/>
<circle cx="160.40" cy="258.78" r="1.45" fill="#0c0cff" stroke="#0c0c48" stroke-width="0.45"/>
<circle cx="161.20" cy="259.20" r="1.45" fill="#0c0cff" stroke="#0c0c48" stroke-width="0.45"/>
<circle cx="162.80" cy="260.00" r="1.45" fill="#0c0cff" stroke="#0c0c48" stroke-width="0.45"/>
<circle cx="164.50" cy="261.70" r="1.45" fill="#0c0cff" stroke="#0c0c48" stroke-width="0.45"/>
<circle cx="165.70" cy="264.20" r="1.45" fill="#0c0cff" stroke="#0c0c48" stroke-width="0.45"/>
<circle cx="167.00" cy="266.70" r="1.45" fill="#0c0cff" stroke="#0c0c48" stroke-width="0.45"/>
<circle cx="168.70" cy="271.70" r="1.45" fill="#0c0cff" stroke="#0c0c48" stroke-width="0.45"/>
<circle cx="170.00" cy="273.00" r="1.45" fill="#0c0cff" stroke="#0c0c48" stroke-width="0.45"/>
<circle cx="171.20" cy="274.20" r="1.45" fill="#0c0cff" stroke="#0c0c48" stroke-width="0.45"/>
<circle cx="172.80" cy="275.80" r="1.45" fill="#0c0cff" stroke="#0c0c48" stroke-width="0.45"/>
<circle cx="174.00" cy="277.00" r="1.45" fill="#0c0cff" stroke="#0c0c48" stroke-width="0.45"/>
<circle cx="175.30" cy="278.30" r="1.45" fill="#0c0cff" stroke="#0c0c48" stroke-width="0.45"/>
<circle cx="176.70" cy="280.00" r="1.45" fill="#0c0cff" stroke="#0c0c48" stroke-width="0.45"/>
<circle cx="177.80" cy="281.70" r="1.45" fill="#0c0cff" stroke="#0c0c48" stroke-width="0.45"/>
<circle cx="179.50" cy="285.00" r="1.45" fill="#0c0cff" stroke="#0c0c48" stroke-width="0.45"/>
<circle cx="180.30" cy="288.30" r="1.45" fill="#0c0cff" stroke="#0c0c48" stroke-width="0.45"/>
<circle cx="181.70" cy="287.50" r="1.45" fill="#0c0cff" stroke="#0c0c48" stroke-width="0.45"/>
<circle cx="182.80" cy="287.00" r="1.45" fill="#0c0cff" stroke="#0c0c48" stroke-width="0.45"/>
<circle cx="184.50" cy="287.00" r="1.45" fill="#0c0cff" stroke="#0c0c48" stroke-width="0.45"/>
<circle cx="185.80" cy="293.70" r="1.45" fill="#0c0cff" stroke="#0c0c48" stroke-width="0.45"/>
<rect x="54.6" y="205.4" width="136.9" height="121.1" fill="none" stroke="#a6a6a6" stroke-width="1"/>
<line x1="52.6" y1="307.6" x2="54.6" y2="307.6" stroke="#555555" stroke-width="0.8"/>
<text x="51.6" y="310.5" font-family="Liberation Sans, sans-serif" font-size="8.0" fill="#4d4d4d" stroke="#4d4d4d" stroke-width="0.22" text-anchor="end">0.0</text>
<line x1="52.6" y1="271.2" x2="54.6" y2="271.2" stroke="#555555" stroke-width="0.8"/>
<text x="51.6" y="274.09999999999997" font-family="Liberation Sans, sans-serif" font-size="8.0" fill="#4d4d4d" stroke="#4d4d4d" stroke-width="0.22" text-anchor="end">0.1</text>
<line x1="52.6" y1="234.9" x2="54.6" y2="234.9" stroke="#555555" stroke-width="0.8"/>
<text x="51.6" y="237.8" font-family="Liberation Sans, sans-serif" font-size="8.0" fill="#4d4d4d" stroke="#4d4d4d" stroke-width="0.22" text-anchor="end">0.2</text>
<line x1="87.5" y1="326.5" x2="87.5" y2="328.5" stroke="#555555" stroke-width="0.8"/>
<text x="87.5" y="336.5" font-family="Liberation Sans, sans-serif" font-size="8.0" fill="#4d4d4d" stroke="#4d4d4d" stroke-width="0.22" text-anchor="middle">25</text>
<line x1="120.7" y1="326.5" x2="120.7" y2="328.5" stroke="#555555" stroke-width="0.8"/>
<text x="120.7" y="336.5" font-family="Liberation Sans, sans-serif" font-size="8.0" fill="#4d4d4d" stroke="#4d4d4d" stroke-width="0.22" text-anchor="middle">50</text>
<line x1="153.8" y1="326.5" x2="153.8" y2="328.5" stroke="#555555" stroke-width="0.8"/>
<text x="153.8" y="336.5" font-family="Liberation Sans, sans-serif" font-size="8.0" fill="#4d4d4d" stroke="#4d4d4d" stroke-width="0.22" text-anchor="middle">75</text>
<line x1="187" y1="326.5" x2="187" y2="328.5" stroke="#555555" stroke-width="0.8"/>
<text x="187" y="336.5" font-family="Liberation Sans, sans-serif" font-size="8.0" fill="#4d4d4d" stroke="#4d4d4d" stroke-width="0.22" text-anchor="middle">100</text>
<rect x="222.5" y="205.4" width="133.0" height="120.99999999999997" fill="#fff"/>
<line x1="238.05" y1="205.4" x2="238.05" y2="326.4" stroke="#f0f0f0" stroke-width="0.7"/>
<line x1="270.55" y1="205.4" x2="270.55" y2="326.4" stroke="#f0f0f0" stroke-width="0.7"/>
<line x1="303.05" y1="205.4" x2="303.05" y2="326.4" stroke="#f0f0f0" stroke-width="0.7"/>
<line x1="335.55" y1="205.4" x2="335.55" y2="326.4" stroke="#f0f0f0" stroke-width="0.7"/>
<line x1="222.5" y1="233.8" x2="355.5" y2="233.8" stroke="#f0f0f0" stroke-width="0.7"/>
<line x1="222.5" y1="265.7" x2="355.5" y2="265.7" stroke="#f0f0f0" stroke-width="0.7"/>
<line x1="222.5" y1="297.7" x2="355.5" y2="297.7" stroke="#f0f0f0" stroke-width="0.7"/>
<line x1="254.3" y1="205.4" x2="254.3" y2="326.4" stroke="#ececec" stroke-width="0.9"/>
<line x1="286.8" y1="205.4" x2="286.8" y2="326.4" stroke="#ececec" stroke-width="0.9"/>
<line x1="319.3" y1="205.4" x2="319.3" y2="326.4" stroke="#ececec" stroke-width="0.9"/>
<line x1="222.5" y1="313.7" x2="355.5" y2="313.7" stroke="#ececec" stroke-width="0.9"/>
<line x1="222.5" y1="281.7" x2="355.5" y2="281.7" stroke="#ececec" stroke-width="0.9"/>
<line x1="222.5" y1="249.7" x2="355.5" y2="249.7" stroke="#ececec" stroke-width="0.9"/>
<line x1="222.5" y1="217.9" x2="355.5" y2="217.9" stroke="#ececec" stroke-width="0.9"/>
<polygon points="227.80,313.30 232.00,313.30 235.30,310.80 237.80,307.50 240.30,303.30 242.80,298.30 245.30,292.50 247.00,290.00 248.70,286.70 250.30,282.50 252.00,277.50 253.70,271.70 254.50,268.30 256.20,265.00 257.80,261.70 260.00,253.30 262.00,250.00 264.50,245.00 266.20,243.00 268.70,243.70 270.30,245.80 272.00,245.00 273.70,245.80 275.30,244.20 277.00,245.80 278.70,240.80 280.30,240.00 282.00,236.70 283.30,230.00 285.30,228.30 287.80,223.30 289.70,220.00 291.30,217.50 292.70,215.80 293.80,218.30 295.50,215.80 297.20,215.00 298.80,213.30 300.50,211.30 302.20,215.80 303.80,220.80 306.30,225.00 308.80,230.00 311.30,235.80 312.70,240.00 313.80,233.30 315.00,230.00 317.20,231.70 319.70,234.20 323.00,235.80 326.30,238.30 328.80,240.80 330.50,245.00 332.20,250.00 334.70,255.00 338.00,260.00 340.50,263.30 342.20,267.00 343.80,273.30 346.30,281.70 348.30,285.80 350.00,290.00 350.20,306.70 350.20,306.70 348.80,305.00 347.20,300.80 344.70,298.30 341.30,292.50 338.00,286.70 335.50,283.30 333.00,280.00 330.50,275.00 328.00,271.70 324.70,268.30 322.20,267.50 319.70,269.20 317.20,268.30 314.70,270.00 313.00,280.00 311.30,278.30 308.80,275.00 306.30,272.50 303.80,270.00 302.20,265.80 299.70,270.00 297.20,267.50 295.50,269.20 293.80,272.50 292.20,270.00 290.50,274.20 289.20,276.70 287.80,280.00 286.20,285.00 284.50,285.00 282.80,288.30 281.20,294.20 279.50,291.70 277.80,290.00 276.20,291.70 274.50,293.30 272.80,294.20 271.20,293.30 269.50,294.20 267.80,293.30 266.20,294.20 264.50,297.50 262.80,298.30 261.20,302.50 259.50,304.20 257.80,308.30 257.00,311.70 255.30,305.80 253.70,307.50 252.00,309.20 250.30,310.00 248.70,312.50 247.00,316.70 245.30,315.80 243.70,316.70 242.00,317.50 239.50,318.30 237.00,320.00 234.50,320.80 232.00,318.30 227.80,315.00" fill="#cdcdcd"/>
<line x1="222.5" y1="313.7" x2="355.5" y2="313.7" stroke="#444" stroke-width="0.8" stroke-dasharray="2.2,1.6"/>
<circle cx="227.80" cy="313.30" r="1.45" fill="#0c0cff" stroke="#0c0c48" stroke-width="0.45"/>
<circle cx="229.50" cy="313.70" r="1.45" fill="#0c0cff" stroke="#0c0c48" stroke-width="0.45"/>
<circle cx="230.85" cy="315.48" r="1.45" fill="#0c0cff" stroke="#0c0c48" stroke-width="0.45"/>
<circle cx="232.00" cy="317.00" r="1.45" fill="#0c0cff" stroke="#0c0c48" stroke-width="0.45"/>
<circle cx="233.70" cy="317.50" r="1.45" fill="#0c0cff" stroke="#0c0c48" stroke-width="0.45"/>
<circle cx="235.30" cy="315.80" r="1.45" fill="#0c0cff" stroke="#0c0c48" stroke-width="0.45"/>
<circle cx="237.30" cy="314.20" r="1.45" fill="#0c0cff" stroke="#0c0c48" stroke-width="0.45"/>
<circle cx="238.65" cy="313.16" r="1.45" fill="#0c0cff" stroke="#0c0c48" stroke-width="0.45"/>
<circle cx="239.50" cy="312.50" r="1.45" fill="#0c0cff" stroke="#0c0c48" stroke-width="0.45"/>
<circle cx="241.20" cy="310.00" r="1.45" fill="#0c0cff" stroke="#0c0c48" stroke-width="0.45"/>
<circle cx="242.80" cy="308.30" r="1.45" fill="#0c0cff" stroke="#0c0c48" stroke-width="0.45"/>
<circle cx="244.50" cy="306.70" r="1.45" fill="#0c0cff" stroke="#0c0c48" stroke-width="0.45"/>
<circle cx="246.20" cy="305.00" r="1.45" fill="#0c0cff" stroke="#0c0c48" stroke-width="0.45"/>
<circle cx="246.70" cy="303.30" r="1.45" fill="#0c0cff" stroke="#0c0c48" stroke-width="0.45"/>
<circle cx="248.30" cy="300.00" r="1.45" fill="#0c0cff" stroke="#0c0c48" stroke-width="0.45"/>
<circle cx="250.00" cy="297.50" r="1.45" fill="#0c0cff" stroke="#0c0c48" stroke-width="0.45"/>
<circle cx="251.70" cy="295.00" r="1.45" fill="#0c0cff" stroke="#0c0c48" stroke-width="0.45"/>
<circle cx="253.30" cy="291.70" r="1.45" fill="#0c0cff" stroke="#0c0c48" stroke-width="0.45"/>
<circle cx="254.50" cy="286.70" r="1.45" fill="#0c0cff" stroke="#0c0c48" stroke-width="0.45"/>
<circle cx="256.20" cy="290.80" r="1.45" fill="#0c0cff" stroke="#0c0c48" stroke-width="0.45"/>
<circle cx="257.00" cy="287.50" r="1.45" fill="#0c0cff" stroke="#0c0c48" stroke-width="0.45"/>
<circle cx="258.15" cy="285.20" r="1.45" fill="#0c0cff" stroke="#0c0c48" stroke-width="0.45"/>
<circle cx="259.50" cy="282.50" r="1.45" fill="#0c0cff" stroke="#0c0c48" stroke-width="0.45"/>
<circle cx="261.20" cy="276.70" r="1.45" fill="#0c0cff" stroke="#0c0c48" stroke-width="0.45"/>
<circle cx="262.80" cy="277.50" r="1.45" fill="#0c0cff" stroke="#0c0c48" stroke-width="0.45"/>
<circle cx="264.50" cy="272.50" r="1.45" fill="#0c0cff" stroke="#0c0c48" stroke-width="0.45"/>
<circle cx="266.20" cy="268.30" r="1.45" fill="#0c0cff" stroke="#0c0c48" stroke-width="0.45"/>
<circle cx="267.80" cy="269.20" r="1.45" fill="#0c0cff" stroke="#0c0c48" stroke-width="0.45"/>
<circle cx="269.50" cy="269.20" r="1.45" fill="#0c0cff" stroke="#0c0c48" stroke-width="0.45"/>
<circle cx="271.20" cy="270.00" r="1.45" fill="#0c0cff" stroke="#0c0c48" stroke-width="0.45"/>
<circle cx="272.80" cy="269.20" r="1.45" fill="#0c0cff" stroke="#0c0c48" stroke-width="0.45"/>
<circle cx="274.50" cy="268.30" r="1.45" fill="#0c0cff" stroke="#0c0c48" stroke-width="0.45"/>
<circle cx="276.20" cy="270.80" r="1.45" fill="#0c0cff" stroke="#0c0c48" stroke-width="0.45"/>
<circle cx="277.80" cy="266.70" r="1.45" fill="#0c0cff" stroke="#0c0c48" stroke-width="0.45"/>
<circle cx="279.50" cy="265.80" r="1.45" fill="#0c0cff" stroke="#0c0c48" stroke-width="0.45"/>
<circle cx="281.20" cy="268.30" r="1.45" fill="#0c0cff" stroke="#0c0c48" stroke-width="0.45"/>
<circle cx="282.30" cy="261.70" r="1.45" fill="#0c0cff" stroke="#0c0c48" stroke-width="0.45"/>
<circle cx="284.50" cy="256.70" r="1.45" fill="#0c0cff" stroke="#0c0c48" stroke-width="0.45"/>
<circle cx="285.80" cy="255.00" r="1.45" fill="#0c0cff" stroke="#0c0c48" stroke-width="0.45"/>
<circle cx="287.30" cy="250.00" r="1.45" fill="#0c0cff" stroke="#0c0c48" stroke-width="0.45"/>
<circle cx="288.70" cy="247.50" r="1.45" fill="#0c0cff" stroke="#0c0c48" stroke-width="0.45"/>
<circle cx="289.70" cy="248.00" r="1.45" fill="#0c0cff" stroke="#0c0c48" stroke-width="0.45"/>
<circle cx="291.30" cy="245.00" r="1.45" fill="#0c0cff" stroke="#0c0c48" stroke-width="0.45"/>
<circle cx="293.00" cy="242.50" r="1.45" fill="#0c0cff" stroke="#0c0c48" stroke-width="0.45"/>
<circle cx="294.70" cy="246.30" r="1.45" fill="#0c0cff" stroke="#0c0c48" stroke-width="0.45"/>
<circle cx="296.00" cy="245.00" r="1.45" fill="#0c0cff" stroke="#0c0c48" stroke-width="0.45"/>
<circle cx="297.70" cy="242.50" r="1.45" fill="#0c0cff" stroke="#0c0c48" stroke-width="0.45"/>
<circle cx="298.80" cy="240.80" r="1.45" fill="#0c0cff" stroke="#0c0c48" stroke-width="0.45"/>
<circle cx="300.50" cy="235.80" r="1.45" fill="#0c0cff" stroke="#0c0c48" stroke-width="0.45"/>
<circle cx="301.70" cy="239.20" r="1.45" fill="#0c0cff" stroke="#0c0c48" stroke-width="0.45"/>
<circle cx="303.30" cy="244.20" r="1.45" fill="#0c0cff" stroke="#0c0c48" stroke-width="0.45"/>
<circle cx="304.70" cy="248.30" r="1.45" fill="#0c0cff" stroke="#0c0c48" stroke-width="0.45"/>
<circle cx="306.30" cy="250.00" r="1.45" fill="#0c0cff" stroke="#0c0c48" stroke-width="0.45"/>
<circle cx="308.30" cy="250.80" r="1.45" fill="#0c0cff" stroke="#0c0c48" stroke-width="0.45"/>
<circle cx="309.70" cy="254.70" r="1.45" fill="#0c0cff" stroke="#0c0c48" stroke-width="0.45"/>
<circle cx="311.00" cy="256.70" r="1.45" fill="#0c0cff" stroke="#0c0c48" stroke-width="0.45"/>
<circle cx="312.20" cy="260.80" r="1.45" fill="#0c0cff" stroke="#0c0c48" stroke-width="0.45"/>
<circle cx="313.30" cy="255.00" r="1.45" fill="#0c0cff" stroke="#0c0c48" stroke-width="0.45"/>
<circle cx="314.70" cy="247.50" r="1.45" fill="#0c0cff" stroke="#0c0c48" stroke-width="0.45"/>
<circle cx="316.30" cy="249.20" r="1.45" fill="#0c0cff" stroke="#0c0c48" stroke-width="0.45"/>
<circle cx="318.00" cy="250.80" r="1.45" fill="#0c0cff" stroke="#0c0c48" stroke-width="0.45"/>
<circle cx="319.70" cy="251.70" r="1.45" fill="#0c0cff" stroke="#0c0c48" stroke-width="0.45"/>
<circle cx="321.30" cy="250.80" r="1.45" fill="#0c0cff" stroke="#0c0c48" stroke-width="0.45"/>
<circle cx="323.00" cy="252.50" r="1.45" fill="#0c0cff" stroke="#0c0c48" stroke-width="0.45"/>
<circle cx="324.70" cy="253.70" r="1.45" fill="#0c0cff" stroke="#0c0c48" stroke-width="0.45"/>
<circle cx="326.30" cy="255.00" r="1.45" fill="#0c0cff" stroke="#0c0c48" stroke-width="0.45"/>
<circle cx="328.00" cy="256.70" r="1.45" fill="#0c0cff" stroke="#0c0c48" stroke-width="0.45"/>
<circle cx="329.70" cy="258.30" r="1.45" fill="#0c0cff" stroke="#0c0c48" stroke-width="0.45"/>
<circle cx="331.00" cy="260.00" r="1.45" fill="#0c0cff" stroke="#0c0c48" stroke-width="0.45"/>
<circle cx="331.70" cy="262.50" r="1.45" fill="#0c0cff" stroke="#0c0c48" stroke-width="0.45"/>
<circle cx="332.70" cy="265.80" r="1.45" fill="#0c0cff" stroke="#0c0c48" stroke-width="0.45"/>
<circle cx="334.30" cy="269.20" r="1.45" fill="#0c0cff" stroke="#0c0c48" stroke-width="0.45"/>
<circle cx="336.00" cy="271.30" r="1.45" fill="#0c0cff" stroke="#0c0c48" stroke-width="0.45"/>
<circle cx="337.70" cy="273.30" r="1.45" fill="#0c0cff" stroke="#0c0c48" stroke-width="0.45"/>
<circle cx="338.75" cy="273.77" r="1.45" fill="#0c0cff" stroke="#0c0c48" stroke-width="0.45"/>
<circle cx="339.70" cy="274.20" r="1.45" fill="#0c0cff" stroke="#0c0c48" stroke-width="0.45"/>
<circle cx="341.00" cy="275.80" r="1.45" fill="#0c0cff" stroke="#0c0c48" stroke-width="0.45"/>
<circle cx="342.20" cy="279.20" r="1.45" fill="#0c0cff" stroke="#0c0c48" stroke-width="0.45"/>
<circle cx="343.30" cy="283.30" r="1.45" fill="#0c0cff" stroke="#0c0c48" stroke-width="0.45"/>
<circle cx="344.70" cy="287.50" r="1.45" fill="#0c0cff" stroke="#0c0c48" stroke-width="0.45"/>
<circle cx="346.00" cy="290.30" r="1.45" fill="#0c0cff" stroke="#0c0c48" stroke-width="0.45"/>
<circle cx="347.20" cy="290.30" r="1.45" fill="#0c0cff" stroke="#0c0c48" stroke-width="0.45"/>
<circle cx="348.30" cy="290.30" r="1.45" fill="#0c0cff" stroke="#0c0c48" stroke-width="0.45"/>
<circle cx="349.70" cy="295.50" r="1.45" fill="#0c0cff" stroke="#0c0c48" stroke-width="0.45"/>
<circle cx="350.45" cy="295.50" r="1.45" fill="#0c0cff" stroke="#0c0c48" stroke-width="0.45"/>
<rect x="222.5" y="205.4" width="133.0" height="120.99999999999997" fill="none" stroke="#a6a6a6" stroke-width="1"/>
<line x1="220.5" y1="313.7" x2="222.5" y2="313.7" stroke="#555555" stroke-width="0.8"/>
<text x="219.5" y="316.59999999999997" font-family="Liberation Sans, sans-serif" font-size="8.0" fill="#4d4d4d" stroke="#4d4d4d" stroke-width="0.22" text-anchor="end">0.00</text>
<line x1="220.5" y1="281.7" x2="222.5" y2="281.7" stroke="#555555" stroke-width="0.8"/>
<text x="219.5" y="284.59999999999997" font-family="Liberation Sans, sans-serif" font-size="8.0" fill="#4d4d4d" stroke="#4d4d4d" stroke-width="0.22" text-anchor="end">0.02</text>
<line x1="220.5" y1="249.7" x2="222.5" y2="249.7" stroke="#555555" stroke-width="0.8"/>
<text x="219.5" y="252.6" font-family="Liberation Sans, sans-serif" font-size="8.0" fill="#4d4d4d" stroke="#4d4d4d" stroke-width="0.22" text-anchor="end">0.04</text>
<line x1="220.5" y1="217.9" x2="222.5" y2="217.9" stroke="#555555" stroke-width="0.8"/>
<text x="219.5" y="220.8" font-family="Liberation Sans, sans-serif" font-size="8.0" fill="#4d4d4d" stroke="#4d4d4d" stroke-width="0.22" text-anchor="end">0.06</text>
<line x1="254.3" y1="326.4" x2="254.3" y2="328.4" stroke="#555555" stroke-width="0.8"/>
<text x="254.3" y="336.4" font-family="Liberation Sans, sans-serif" font-size="8.0" fill="#4d4d4d" stroke="#4d4d4d" stroke-width="0.22" text-anchor="middle">25</text>
<line x1="286.8" y1="326.4" x2="286.8" y2="328.4" stroke="#555555" stroke-width="0.8"/>
<text x="286.8" y="336.4" font-family="Liberation Sans, sans-serif" font-size="8.0" fill="#4d4d4d" stroke="#4d4d4d" stroke-width="0.22" text-anchor="middle">50</text>
<line x1="319.3" y1="326.4" x2="319.3" y2="328.4" stroke="#555555" stroke-width="0.8"/>
<text x="319.3" y="336.4" font-family="Liberation Sans, sans-serif" font-size="8.0" fill="#4d4d4d" stroke="#4d4d4d" stroke-width="0.22" text-anchor="middle">75</text>
<rect x="386.5" y="205.3" width="132.0" height="121.0" fill="#fff"/>
<line x1="401.5" y1="205.3" x2="401.5" y2="326.3" stroke="#f0f0f0" stroke-width="0.7"/>
<line x1="434.0" y1="205.3" x2="434.0" y2="326.3" stroke="#f0f0f0" stroke-width="0.7"/>
<line x1="466.5" y1="205.3" x2="466.5" y2="326.3" stroke="#f0f0f0" stroke-width="0.7"/>
<line x1="499.0" y1="205.3" x2="499.0" y2="326.3" stroke="#f0f0f0" stroke-width="0.7"/>
<line x1="386.5" y1="219.8" x2="518.5" y2="219.8" stroke="#f0f0f0" stroke-width="0.7"/>
<line x1="386.5" y1="241.05" x2="518.5" y2="241.05" stroke="#f0f0f0" stroke-width="0.7"/>
<line x1="386.5" y1="262.29999999999995" x2="518.5" y2="262.29999999999995" stroke="#f0f0f0" stroke-width="0.7"/>
<line x1="386.5" y1="283.5" x2="518.5" y2="283.5" stroke="#f0f0f0" stroke-width="0.7"/>
<line x1="386.5" y1="304.75" x2="518.5" y2="304.75" stroke="#f0f0f0" stroke-width="0.7"/>
<line x1="386.5" y1="326.0" x2="518.5" y2="326.0" stroke="#f0f0f0" stroke-width="0.7"/>
<line x1="417.75" y1="205.3" x2="417.75" y2="326.3" stroke="#ececec" stroke-width="0.9"/>
<line x1="450.25" y1="205.3" x2="450.25" y2="326.3" stroke="#ececec" stroke-width="0.9"/>
<line x1="482.75" y1="205.3" x2="482.75" y2="326.3" stroke="#ececec" stroke-width="0.9"/>
<line x1="515.25" y1="205.3" x2="515.25" y2="326.3" stroke="#ececec" stroke-width="0.9"/>
<line x1="386.5" y1="315.4" x2="518.5" y2="315.4" stroke="#ececec" stroke-width="0.9"/>
<line x1="386.5" y1="294.1" x2="518.5" y2="294.1" stroke="#ececec" stroke-width="0.9"/>
<line x1="386.5" y1="272.9" x2="518.5" y2="272.9" stroke="#ececec" stroke-width="0.9"/>
<line x1="386.5" y1="251.7" x2="518.5" y2="251.7" stroke="#ececec" stroke-width="0.9"/>
<line x1="386.5" y1="230.4" x2="518.5" y2="230.4" stroke="#ececec" stroke-width="0.9"/>
<line x1="386.5" y1="209.2" x2="518.5" y2="209.2" stroke="#ececec" stroke-width="0.9"/>
<polygon points="391.80,314.20 395.20,314.20 397.70,311.70 400.20,307.50 402.70,302.50 404.30,298.30 406.00,294.20 407.70,291.70 409.30,286.70 411.00,283.30 412.70,278.30 414.30,273.30 416.00,268.30 416.80,265.00 419.30,260.00 421.80,253.30 424.00,247.50 426.00,242.50 427.70,238.30 429.70,234.20 431.30,236.70 433.00,238.30 434.30,240.00 436.00,237.50 438.00,235.80 439.70,236.70 441.00,234.20 442.70,231.70 444.30,228.30 445.70,223.30 447.70,220.00 449.30,217.50 451.80,214.20 454.50,212.50 457.00,211.70 458.70,213.30 460.30,211.70 462.00,213.30 463.70,211.70 464.50,211.30 466.20,217.50 468.70,223.30 471.20,230.00 473.70,236.70 475.30,240.80 477.00,235.00 478.70,233.30 482.00,235.80 485.30,238.30 488.70,240.80 492.00,243.30 494.50,245.00 495.70,250.00 497.80,255.00 500.30,260.00 502.80,265.00 504.50,275.00 507.00,281.70 509.50,286.70 511.70,291.70 512.80,296.70 513.40,314.20 513.40,314.20 511.20,311.70 508.70,309.20 505.30,305.00 502.00,300.80 498.70,295.00 495.30,290.00 492.00,284.20 488.70,280.00 485.30,277.50 482.00,275.00 478.70,273.30 477.00,277.50 475.00,282.50 472.80,276.70 470.30,273.30 467.80,271.70 465.30,266.70 463.70,268.30 462.00,262.50 460.30,264.20 458.70,261.70 455.30,263.30 452.00,262.50 449.30,265.00 447.70,270.00 446.00,274.20 445.20,279.20 443.50,280.00 441.80,277.50 440.20,278.30 438.50,277.50 436.80,279.20 435.20,280.80 433.50,285.00 431.80,286.70 431.00,290.80 429.30,291.70 427.70,293.30 426.00,295.80 424.30,295.80 422.70,299.20 421.00,302.50 419.30,305.80 417.70,304.20 416.00,305.80 414.30,306.70 412.70,307.50 411.00,310.00 409.30,312.50 407.70,310.80 406.00,311.70 404.30,312.50 402.70,314.20 401.00,316.70 399.30,318.30 396.80,320.00 394.30,318.30 391.80,315.80" fill="#cdcdcd"/>
<line x1="386.5" y1="315.4" x2="518.5" y2="315.4" stroke="#444" stroke-width="0.8" stroke-dasharray="2.2,1.6"/>
<circle cx="391.80" cy="315.00" r="1.45" fill="#0c0cff" stroke="#0c0c48" stroke-width="0.45"/>
<circle cx="393.50" cy="315.00" r="1.45" fill="#0c0cff" stroke="#0c0c48" stroke-width="0.45"/>
<circle cx="394.35" cy="315.40" r="1.45" fill="#0c0cff" stroke="#0c0c48" stroke-width="0.45"/>
<circle cx="395.20" cy="315.80" r="1.45" fill="#0c0cff" stroke="#0c0c48" stroke-width="0.45"/>
<circle cx="396.30" cy="317.50" r="1.45" fill="#0c0cff" stroke="#0c0c48" stroke-width="0.45"/>
<circle cx="397.70" cy="316.70" r="1.45" fill="#0c0cff" stroke="#0c0c48" stroke-width="0.45"/>
<circle cx="399.30" cy="315.00" r="1.45" fill="#0c0cff" stroke="#0c0c48" stroke-width="0.45"/>
<circle cx="401.00" cy="313.30" r="1.45" fill="#0c0cff" stroke="#0c0c48" stroke-width="0.45"/>
<circle cx="402.70" cy="308.30" r="1.45" fill="#0c0cff" stroke="#0c0c48" stroke-width="0.45"/>
<circle cx="404.00" cy="308.00" r="1.45" fill="#0c0cff" stroke="#0c0c48" stroke-width="0.45"/>
<circle cx="405.70" cy="304.70" r="1.45" fill="#0c0cff" stroke="#0c0c48" stroke-width="0.45"/>
<circle cx="406.80" cy="303.70" r="1.45" fill="#0c0cff" stroke="#0c0c48" stroke-width="0.45"/>
<circle cx="408.50" cy="300.00" r="1.45" fill="#0c0cff" stroke="#0c0c48" stroke-width="0.45"/>
<circle cx="410.20" cy="302.50" r="1.45" fill="#0c0cff" stroke="#0c0c48" stroke-width="0.45"/>
<circle cx="411.00" cy="299.20" r="1.45" fill="#0c0cff" stroke="#0c0c48" stroke-width="0.45"/>
<circle cx="412.30" cy="296.70" r="1.45" fill="#0c0cff" stroke="#0c0c48" stroke-width="0.45"/>
<circle cx="413.50" cy="294.20" r="1.45" fill="#0c0cff" stroke="#0c0c48" stroke-width="0.45"/>
<circle cx="415.20" cy="291.30" r="1.45" fill="#0c0cff" stroke="#0c0c48" stroke-width="0.45"/>
<circle cx="416.80" cy="286.70" r="1.45" fill="#0c0cff" stroke="#0c0c48" stroke-width="0.45"/>
<circle cx="418.50" cy="284.70" r="1.45" fill="#0c0cff" stroke="#0c0c48" stroke-width="0.45"/>
<circle cx="420.20" cy="285.80" r="1.45" fill="#0c0cff" stroke="#0c0c48" stroke-width="0.45"/>
<circle cx="421.00" cy="282.50" r="1.45" fill="#0c0cff" stroke="#0c0c48" stroke-width="0.45"/>
<circle cx="422.70" cy="277.00" r="1.45" fill="#0c0cff" stroke="#0c0c48" stroke-width="0.45"/>
<circle cx="424.70" cy="271.30" r="1.45" fill="#0c0cff" stroke="#0c0c48" stroke-width="0.45"/>
<circle cx="426.00" cy="270.00" r="1.45" fill="#0c0cff" stroke="#0c0c48" stroke-width="0.45"/>
<circle cx="426.80" cy="269.20" r="1.45" fill="#0c0cff" stroke="#0c0c48" stroke-width="0.45"/>
<circle cx="428.00" cy="265.80" r="1.45" fill="#0c0cff" stroke="#0c0c48" stroke-width="0.45"/>
<circle cx="428.50" cy="266.70" r="1.45" fill="#0c0cff" stroke="#0c0c48" stroke-width="0.45"/>
<circle cx="429.70" cy="260.00" r="1.45" fill="#0c0cff" stroke="#0c0c48" stroke-width="0.45"/>
<circle cx="431.00" cy="260.80" r="1.45" fill="#0c0cff" stroke="#0c0c48" stroke-width="0.45"/>
<circle cx="432.70" cy="264.20" r="1.45" fill="#0c0cff" stroke="#0c0c48" stroke-width="0.45"/>
<circle cx="434.30" cy="263.30" r="1.45" fill="#0c0cff" stroke="#0c0c48" stroke-width="0.45"/>
<circle cx="436.00" cy="259.20" r="1.45" fill="#0c0cff" stroke="#0c0c48" stroke-width="0.45"/>
<circle cx="437.70" cy="258.70" r="1.45" fill="#0c0cff" stroke="#0c0c48" stroke-width="0.45"/>
<circle cx="439.00" cy="255.80" r="1.45" fill="#0c0cff" stroke="#0c0c48" stroke-width="0.45"/>
<circle cx="439.85" cy="255.40" r="1.45" fill="#0c0cff" stroke="#0c0c48" stroke-width="0.45"/>
<circle cx="440.70" cy="255.00" r="1.45" fill="#0c0cff" stroke="#0c0c48" stroke-width="0.45"/>
<circle cx="441.00" cy="259.20" r="1.45" fill="#0c0cff" stroke="#0c0c48" stroke-width="0.45"/>
<circle cx="441.80" cy="254.70" r="1.45" fill="#0c0cff" stroke="#0c0c48" stroke-width="0.45"/>
<circle cx="443.00" cy="255.50" r="1.45" fill="#0c0cff" stroke="#0c0c48" stroke-width="0.45"/>
<circle cx="444.30" cy="256.70" r="1.45" fill="#0c0cff" stroke="#0c0c48" stroke-width="0.45"/>
<circle cx="446.00" cy="248.30" r="1.45" fill="#0c0cff" stroke="#0c0c48" stroke-width="0.45"/>
<circle cx="447.30" cy="243.00" r="1.45" fill="#0c0cff" stroke="#0c0c48" stroke-width="0.45"/>
<circle cx="448.50" cy="245.00" r="1.45" fill="#0c0cff" stroke="#0c0c48" stroke-width="0.45"/>
<circle cx="450.20" cy="240.00" r="1.45" fill="#0c0cff" stroke="#0c0c48" stroke-width="0.45"/>
<circle cx="451.30" cy="240.80" r="1.45" fill="#0c0cff" stroke="#0c0c48" stroke-width="0.45"/>
<circle cx="452.70" cy="238.30" r="1.45" fill="#0c0cff" stroke="#0c0c48" stroke-width="0.45"/>
<circle cx="453.70" cy="237.50" r="1.45" fill="#0c0cff" stroke="#0c0c48" stroke-width="0.45"/>
<circle cx="455.30" cy="235.80" r="1.45" fill="#0c0cff" stroke="#0c0c48" stroke-width="0.45"/>
<circle cx="456.70" cy="235.50" r="1.45" fill="#0c0cff" stroke="#0c0c48" stroke-width="0.45"/>
<circle cx="457.80" cy="238.30" r="1.45" fill="#0c0cff" stroke="#0c0c48" stroke-width="0.45"/>
<circle cx="459.50" cy="237.50" r="1.45" fill="#0c0cff" stroke="#0c0c48" stroke-width="0.45"/>
<circle cx="460.30" cy="240.00" r="1.45" fill="#0c0cff" stroke="#0c0c48" stroke-width="0.45"/>
<circle cx="461.70" cy="240.80" r="1.45" fill="#0c0cff" stroke="#0c0c48" stroke-width="0.45"/>
<circle cx="462.80" cy="242.50" r="1.45" fill="#0c0cff" stroke="#0c0c48" stroke-width="0.45"/>
<circle cx="464.00" cy="235.80" r="1.45" fill="#0c0cff" stroke="#0c0c48" stroke-width="0.45"/>
<circle cx="465.30" cy="240.80" r="1.45" fill="#0c0cff" stroke="#0c0c48" stroke-width="0.45"/>
<circle cx="466.70" cy="245.00" r="1.45" fill="#0c0cff" stroke="#0c0c48" stroke-width="0.45"/>
<circle cx="467.80" cy="247.50" r="1.45" fill="#0c0cff" stroke="#0c0c48" stroke-width="0.45"/>
<circle cx="469.00" cy="249.20" r="1.45" fill="#0c0cff" stroke="#0c0c48" stroke-width="0.45"/>
<circle cx="470.30" cy="250.80" r="1.45" fill="#0c0cff" stroke="#0c0c48" stroke-width="0.45"/>
<circle cx="471.70" cy="252.50" r="1.45" fill="#0c0cff" stroke="#0c0c48" stroke-width="0.45"/>
<circle cx="472.80" cy="255.00" r="1.45" fill="#0c0cff" stroke="#0c0c48" stroke-width="0.45"/>
<circle cx="474.00" cy="259.20" r="1.45" fill="#0c0cff" stroke="#0c0c48" stroke-width="0.45"/>
<circle cx="475.30" cy="261.70" r="1.45" fill="#0c0cff" stroke="#0c0c48" stroke-width="0.45"/>
<circle cx="476.70" cy="259.20" r="1.45" fill="#0c0cff" stroke="#0c0c48" stroke-width="0.45"/>
<circle cx="478.30" cy="252.50" r="1.45" fill="#0c0cff" stroke="#0c0c48" stroke-width="0.45"/>
<circle cx="480.00" cy="253.30" r="1.45" fill="#0c0cff" stroke="#0c0c48" stroke-width="0.45"/>
<circle cx="481.70" cy="255.00" r="1.45" fill="#0c0cff" stroke="#0c0c48" stroke-width="0.45"/>
<circle cx="483.30" cy="256.70" r="1.45" fill="#0c0cff" stroke="#0c0c48" stroke-width="0.45"/>
<circle cx="485.00" cy="257.50" r="1.45" fill="#0c0cff" stroke="#0c0c48" stroke-width="0.45"/>
<circle cx="486.70" cy="258.30" r="1.45" fill="#0c0cff" stroke="#0c0c48" stroke-width="0.45"/>
<circle cx="488.30" cy="260.00" r="1.45" fill="#0c0cff" stroke="#0c0c48" stroke-width="0.45"/>
<circle cx="490.00" cy="261.70" r="1.45" fill="#0c0cff" stroke="#0c0c48" stroke-width="0.45"/>
<circle cx="491.70" cy="263.00" r="1.45" fill="#0c0cff" stroke="#0c0c48" stroke-width="0.45"/>
<circle cx="493.30" cy="264.20" r="1.45" fill="#0c0cff" stroke="#0c0c48" stroke-width="0.45"/>
<circle cx="494.50" cy="265.30" r="1.45" fill="#0c0cff" stroke="#0c0c48" stroke-width="0.45"/>
<circle cx="495.00" cy="268.70" r="1.45" fill="#0c0cff" stroke="#0c0c48" stroke-width="0.45"/>
<circle cx="496.20" cy="272.50" r="1.45" fill="#0c0cff" stroke="#0c0c48" stroke-width="0.45"/>
<circle cx="497.30" cy="274.70" r="1.45" fill="#0c0cff" stroke="#0c0c48" stroke-width="0.45"/>
<circle cx="498.70" cy="276.30" r="1.45" fill="#0c0cff" stroke="#0c0c48" stroke-width="0.45"/>
<circle cx="500.30" cy="277.50" r="1.45" fill="#0c0cff" stroke="#0c0c48" stroke-width="0.45"/>
<circle cx="501.70" cy="280.30" r="1.45" fill="#0c0cff" stroke="#0c0c48" stroke-width="0.45"/>
<circle cx="503.30" cy="281.70" r="1.45" fill="#0c0cff" stroke="#0c0c48" stroke-width="0.45"/>
<circle cx="504.50" cy="283.00" r="1.45" fill="#0c0cff" stroke="#0c0c48" stroke-width="0.45"/>
<circle cx="505.30" cy="285.80" r="1.45" fill="#0c0cff" stroke="#0c0c48" stroke-width="0.45"/>
<circle cx="506.70" cy="290.80" r="1.45" fill="#0c0cff" stroke="#0c0c48" stroke-width="0.45"/>
<circle cx="507.80" cy="293.00" r="1.45" fill="#0c0cff" stroke="#0c0c48" stroke-width="0.45"/>
<circle cx="509.00" cy="298.30" r="1.45" fill="#0c0cff" stroke="#0c0c48" stroke-width="0.45"/>
<circle cx="510.70" cy="298.30" r="1.45" fill="#0c0cff" stroke="#0c0c48" stroke-width="0.45"/>
<circle cx="512.00" cy="298.30" r="1.45" fill="#0c0cff" stroke="#0c0c48" stroke-width="0.45"/>
<circle cx="513.20" cy="302.00" r="1.45" fill="#0c0cff" stroke="#0c0c48" stroke-width="0.45"/>
<rect x="386.5" y="205.3" width="132.0" height="121.0" fill="none" stroke="#a6a6a6" stroke-width="1"/>
<line x1="384.5" y1="315.4" x2="386.5" y2="315.4" stroke="#555555" stroke-width="0.8"/>
<text x="383.5" y="318.29999999999995" font-family="Liberation Sans, sans-serif" font-size="8.0" fill="#4d4d4d" stroke="#4d4d4d" stroke-width="0.22" text-anchor="end">0.00</text>
<line x1="384.5" y1="294.1" x2="386.5" y2="294.1" stroke="#555555" stroke-width="0.8"/>
<text x="383.5" y="297.0" font-family="Liberation Sans, sans-serif" font-size="8.0" fill="#4d4d4d" stroke="#4d4d4d" stroke-width="0.22" text-anchor="end">0.05</text>
<line x1="384.5" y1="272.9" x2="386.5" y2="272.9" stroke="#555555" stroke-width="0.8"/>
<text x="383.5" y="275.79999999999995" font-family="Liberation Sans, sans-serif" font-size="8.0" fill="#4d4d4d" stroke="#4d4d4d" stroke-width="0.22" text-anchor="end">0.10</text>
<line x1="384.5" y1="251.7" x2="386.5" y2="251.7" stroke="#555555" stroke-width="0.8"/>
<text x="383.5" y="254.6" font-family="Liberation Sans, sans-serif" font-size="8.0" fill="#4d4d4d" stroke="#4d4d4d" stroke-width="0.22" text-anchor="end">0.15</text>
<line x1="384.5" y1="230.4" x2="386.5" y2="230.4" stroke="#555555" stroke-width="0.8"/>
<text x="383.5" y="233.3" font-family="Liberation Sans, sans-serif" font-size="8.0" fill="#4d4d4d" stroke="#4d4d4d" stroke-width="0.22" text-anchor="end">0.20</text>
<line x1="384.5" y1="209.2" x2="386.5" y2="209.2" stroke="#555555" stroke-width="0.8"/>
<text x="383.5" y="212.1" font-family="Liberation Sans, sans-serif" font-size="8.0" fill="#4d4d4d" stroke="#4d4d4d" stroke-width="0.22" text-anchor="end">0.25</text>
<line x1="417.75" y1="326.3" x2="417.75" y2="328.3" stroke="#555555" stroke-width="0.8"/>
<text x="417.75" y="336.3" font-family="Liberation Sans, sans-serif" font-size="8.0" fill="#4d4d4d" stroke="#4d4d4d" stroke-width="0.22" text-anchor="middle">25</text>
<line x1="450.25" y1="326.3" x2="450.25" y2="328.3" stroke="#555555" stroke-width="0.8"/>
<text x="450.25" y="336.3" font-family="Liberation Sans, sans-serif" font-size="8.0" fill="#4d4d4d" stroke="#4d4d4d" stroke-width="0.22" text-anchor="middle">50</text>
<line x1="482.75" y1="326.3" x2="482.75" y2="328.3" stroke="#555555" stroke-width="0.8"/>
<text x="482.75" y="336.3" font-family="Liberation Sans, sans-serif" font-size="8.0" fill="#4d4d4d" stroke="#4d4d4d" stroke-width="0.22" text-anchor="middle">75</text>
<line x1="515.25" y1="326.3" x2="515.25" y2="328.3" stroke="#555555" stroke-width="0.8"/>
<text x="515.25" y="336.3" font-family="Liberation Sans, sans-serif" font-size="8.0" fill="#4d4d4d" stroke="#4d4d4d" stroke-width="0.22" text-anchor="middle">100</text>
<rect x="539.4" y="205.6" width="143.0" height="120.79999999999998" fill="#fff"/>
<line x1="555.8999999999999" y1="205.6" x2="555.8999999999999" y2="326.4" stroke="#f0f0f0" stroke-width="0.7"/>
<line x1="590.7" y1="205.6" x2="590.7" y2="326.4" stroke="#f0f0f0" stroke-width="0.7"/>
<line x1="625.5" y1="205.6" x2="625.5" y2="326.4" stroke="#f0f0f0" stroke-width="0.7"/>
<line x1="660.3" y1="205.6" x2="660.3" y2="326.4" stroke="#f0f0f0" stroke-width="0.7"/>
<line x1="539.4" y1="233.55" x2="682.4" y2="233.55" stroke="#f0f0f0" stroke-width="0.7"/>
<line x1="539.4" y1="266.05" x2="682.4" y2="266.05" stroke="#f0f0f0" stroke-width="0.7"/>
<line x1="539.4" y1="298.55" x2="682.4" y2="298.55" stroke="#f0f0f0" stroke-width="0.7"/>
<line x1="573.3" y1="205.6" x2="573.3" y2="326.4" stroke="#ececec" stroke-width="0.9"/>
<line x1="608.1" y1="205.6" x2="608.1" y2="326.4" stroke="#ececec" stroke-width="0.9"/>
<line x1="642.9" y1="205.6" x2="642.9" y2="326.4" stroke="#ececec" stroke-width="0.9"/>
<line x1="677.7" y1="205.6" x2="677.7" y2="326.4" stroke="#ececec" stroke-width="0.9"/>
<line x1="539.4" y1="314.8" x2="682.4" y2="314.8" stroke="#ececec" stroke-width="0.9"/>
<line x1="539.4" y1="282.3" x2="682.4" y2="282.3" stroke="#ececec" stroke-width="0.9"/>
<line x1="539.4" y1="249.8" x2="682.4" y2="249.8" stroke="#ececec" stroke-width="0.9"/>
<line x1="539.4" y1="217.3" x2="682.4" y2="217.3" stroke="#ececec" stroke-width="0.9"/>
<polygon points="544.80,313.30 548.20,312.50 551.50,310.80 554.00,307.50 555.70,304.20 557.30,300.00 559.00,295.80 560.70,291.70 562.30,286.70 564.00,284.20 565.70,282.50 567.30,278.30 569.00,275.00 570.70,272.50 572.30,268.30 573.20,265.00 574.80,261.70 577.30,255.00 579.80,249.20 582.00,245.00 584.00,240.80 586.00,239.20 587.70,240.00 589.30,239.20 591.50,240.80 593.20,240.00 594.80,240.80 596.50,239.20 597.70,241.70 599.30,235.80 601.00,230.00 603.20,225.00 604.80,222.50 606.50,221.70 608.20,218.30 610.70,216.70 612.30,215.00 614.00,215.80 615.70,214.20 617.30,215.00 619.00,213.30 621.00,212.50 622.30,214.20 623.70,211.70 624.80,216.70 627.30,222.50 629.80,226.70 632.30,232.50 634.80,236.70 636.20,240.80 637.30,235.80 639.00,233.00 642.30,234.20 645.70,235.00 649.00,235.80 652.70,237.50 654.80,240.00 656.50,245.80 659.00,250.80 661.50,255.00 664.00,259.20 666.50,264.20 667.70,267.00 669.00,275.00 670.70,283.30 673.20,284.20 675.70,285.00 676.20,312.50 676.20,312.50 674.80,311.70 672.30,310.30 669.80,309.20 667.30,305.00 664.80,300.80 662.30,297.50 659.80,293.30 657.30,288.30 655.70,281.70 654.00,280.80 651.50,281.70 649.00,280.80 645.70,280.80 642.30,280.80 639.00,280.80 637.30,282.50 634.80,288.30 632.30,285.00 629.80,280.80 628.20,281.70 625.70,284.20 624.00,278.30 622.30,275.00 619.80,277.50 618.20,273.30 616.50,277.50 614.00,279.20 611.50,280.00 609.00,279.20 607.30,280.80 605.70,280.00 604.30,281.70 603.20,286.70 602.30,284.20 600.70,286.70 599.00,290.00 597.30,288.30 596.50,290.80 594.80,289.20 593.20,291.70 591.50,290.80 589.80,293.30 588.20,292.50 586.50,295.80 584.80,297.50 583.20,300.80 581.50,303.30 579.80,301.70 578.20,304.20 576.50,305.00 574.80,310.00 573.20,307.50 571.50,308.30 569.80,311.70 568.20,308.30 566.50,309.20 564.80,310.00 563.20,309.20 561.50,310.00 559.80,313.30 558.20,315.80 555.70,318.30 553.20,320.00 550.70,320.00 548.20,318.30 544.80,315.80" fill="#cdcdcd"/>
<line x1="539.4" y1="314.8" x2="682.4" y2="314.8" stroke="#9a9a9a" stroke-width="0.8" stroke-dasharray="2.2,1.6"/>
<circle cx="544.80" cy="314.70" r="1.45" fill="#0c0cff" stroke="#0c0c48" stroke-width="0.45"/>
<circle cx="545.57" cy="314.70" r="1.45" fill="#0c0cff" stroke="#0c0c48" stroke-width="0.45"/>
<circle cx="546.50" cy="314.70" r="1.45" fill="#0c0cff" stroke="#0c0c48" stroke-width="0.45"/>
<circle cx="548.20" cy="315.00" r="1.45" fill="#0c0cff" stroke="#0c0c48" stroke-width="0.45"/>
<circle cx="549.30" cy="317.00" r="1.45" fill="#0c0cff" stroke="#0c0c48" stroke-width="0.45"/>
<circle cx="550.70" cy="317.50" r="1.45" fill="#0c0cff" stroke="#0c0c48" stroke-width="0.45"/>
<circle cx="552.00" cy="315.80" r="1.45" fill="#0c0cff" stroke="#0c0c48" stroke-width="0.45"/>
<circle cx="553.70" cy="314.20" r="1.45" fill="#0c0cff" stroke="#0c0c48" stroke-width="0.45"/>
<circle cx="555.30" cy="312.50" r="1.45" fill="#0c0cff" stroke="#0c0c48" stroke-width="0.45"/>
<circle cx="556.50" cy="310.80" r="1.45" fill="#0c0cff" stroke="#0c0c48" stroke-width="0.45"/>
<circle cx="558.20" cy="310.80" r="1.45" fill="#0c0cff" stroke="#0c0c48" stroke-width="0.45"/>
<circle cx="559.30" cy="306.70" r="1.45" fill="#0c0cff" stroke="#0c0c48" stroke-width="0.45"/>
<circle cx="560.70" cy="304.20" r="1.45" fill="#0c0cff" stroke="#0c0c48" stroke-width="0.45"/>
<circle cx="562.30" cy="300.30" r="1.45" fill="#0c0cff" stroke="#0c0c48" stroke-width="0.45"/>
<circle cx="563.70" cy="295.80" r="1.45" fill="#0c0cff" stroke="#0c0c48" stroke-width="0.45"/>
<circle cx="564.80" cy="298.30" r="1.45" fill="#0c0cff" stroke="#0c0c48" stroke-width="0.45"/>
<circle cx="566.50" cy="296.30" r="1.45" fill="#0c0cff" stroke="#0c0c48" stroke-width="0.45"/>
<circle cx="568.20" cy="295.00" r="1.45" fill="#0c0cff" stroke="#0c0c48" stroke-width="0.45"/>
<circle cx="569.30" cy="292.50" r="1.45" fill="#0c0cff" stroke="#0c0c48" stroke-width="0.45"/>
<circle cx="570.66" cy="293.55" r="1.45" fill="#0c0cff" stroke="#0c0c48" stroke-width="0.45"/>
<circle cx="571.50" cy="294.20" r="1.45" fill="#0c0cff" stroke="#0c0c48" stroke-width="0.45"/>
<circle cx="573.20" cy="286.30" r="1.45" fill="#0c0cff" stroke="#0c0c48" stroke-width="0.45"/>
<circle cx="574.80" cy="284.70" r="1.45" fill="#0c0cff" stroke="#0c0c48" stroke-width="0.45"/>
<circle cx="576.00" cy="285.80" r="1.45" fill="#0c0cff" stroke="#0c0c48" stroke-width="0.45"/>
<circle cx="577.70" cy="283.00" r="1.45" fill="#0c0cff" stroke="#0c0c48" stroke-width="0.45"/>
<circle cx="579.30" cy="278.00" r="1.45" fill="#0c0cff" stroke="#0c0c48" stroke-width="0.45"/>
<circle cx="580.30" cy="275.80" r="1.45" fill="#0c0cff" stroke="#0c0c48" stroke-width="0.45"/>
<circle cx="581.50" cy="278.00" r="1.45" fill="#0c0cff" stroke="#0c0c48" stroke-width="0.45"/>
<circle cx="582.70" cy="273.30" r="1.45" fill="#0c0cff" stroke="#0c0c48" stroke-width="0.45"/>
<circle cx="584.00" cy="273.00" r="1.45" fill="#0c0cff" stroke="#0c0c48" stroke-width="0.45"/>
<circle cx="586.00" cy="269.20" r="1.45" fill="#0c0cff" stroke="#0c0c48" stroke-width="0.45"/>
<circle cx="587.30" cy="268.30" r="1.45" fill="#0c0cff" stroke="#0c0c48" stroke-width="0.45"/>
<circle cx="588.70" cy="268.70" r="1.45" fill="#0c0cff" stroke="#0c0c48" stroke-width="0.45"/>
<circle cx="589.00" cy="266.30" r="1.45" fill="#0c0cff" stroke="#0c0c48" stroke-width="0.45"/>
<circle cx="590.30" cy="267.00" r="1.45" fill="#0c0cff" stroke="#0c0c48" stroke-width="0.45"/>
<circle cx="591.50" cy="265.00" r="1.45" fill="#0c0cff" stroke="#0c0c48" stroke-width="0.45"/>
<circle cx="592.00" cy="265.80" r="1.45" fill="#0c0cff" stroke="#0c0c48" stroke-width="0.45"/>
<circle cx="593.70" cy="266.30" r="1.45" fill="#0c0cff" stroke="#0c0c48" stroke-width="0.45"/>
<circle cx="594.00" cy="265.30" r="1.45" fill="#0c0cff" stroke="#0c0c48" stroke-width="0.45"/>
<circle cx="595.70" cy="263.30" r="1.45" fill="#0c0cff" stroke="#0c0c48" stroke-width="0.45"/>
<circle cx="597.30" cy="264.70" r="1.45" fill="#0c0cff" stroke="#0c0c48" stroke-width="0.45"/>
<circle cx="598.54" cy="263.33" r="1.45" fill="#0c0cff" stroke="#0c0c48" stroke-width="0.45"/>
<circle cx="599.30" cy="262.50" r="1.45" fill="#0c0cff" stroke="#0c0c48" stroke-width="0.45"/>
<circle cx="601.00" cy="258.30" r="1.45" fill="#0c0cff" stroke="#0c0c48" stroke-width="0.45"/>
<circle cx="602.00" cy="260.80" r="1.45" fill="#0c0cff" stroke="#0c0c48" stroke-width="0.45"/>
<circle cx="602.70" cy="258.00" r="1.45" fill="#0c0cff" stroke="#0c0c48" stroke-width="0.45"/>
<circle cx="604.30" cy="254.20" r="1.45" fill="#0c0cff" stroke="#0c0c48" stroke-width="0.45"/>
<circle cx="606.00" cy="252.50" r="1.45" fill="#0c0cff" stroke="#0c0c48" stroke-width="0.45"/>
<circle cx="606.91" cy="250.74" r="1.45" fill="#0c0cff" stroke="#0c0c48" stroke-width="0.45"/>
<circle cx="607.70" cy="249.20" r="1.45" fill="#0c0cff" stroke="#0c0c48" stroke-width="0.45"/>
<circle cx="609.00" cy="250.80" r="1.45" fill="#0c0cff" stroke="#0c0c48" stroke-width="0.45"/>
<circle cx="609.80" cy="248.30" r="1.45" fill="#0c0cff" stroke="#0c0c48" stroke-width="0.45"/>
<circle cx="610.70" cy="248.70" r="1.45" fill="#0c0cff" stroke="#0c0c48" stroke-width="0.45"/>
<circle cx="612.30" cy="247.50" r="1.45" fill="#0c0cff" stroke="#0c0c48" stroke-width="0.45"/>
<circle cx="614.00" cy="248.00" r="1.45" fill="#0c0cff" stroke="#0c0c48" stroke-width="0.45"/>
<circle cx="615.70" cy="246.30" r="1.45" fill="#0c0cff" stroke="#0c0c48" stroke-width="0.45"/>
<circle cx="617.00" cy="247.50" r="1.45" fill="#0c0cff" stroke="#0c0c48" stroke-width="0.45"/>
<circle cx="618.20" cy="243.00" r="1.45" fill="#0c0cff" stroke="#0c0c48" stroke-width="0.45"/>
<circle cx="619.80" cy="244.20" r="1.45" fill="#0c0cff" stroke="#0c0c48" stroke-width="0.45"/>
<circle cx="621.50" cy="245.80" r="1.45" fill="#0c0cff" stroke="#0c0c48" stroke-width="0.45"/>
<circle cx="623.70" cy="242.50" r="1.45" fill="#0c0cff" stroke="#0c0c48" stroke-width="0.45"/>
<circle cx="624.80" cy="248.70" r="1.45" fill="#0c0cff" stroke="#0c0c48" stroke-width="0.45"/>
<circle cx="626.50" cy="252.50" r="1.45" fill="#0c0cff" stroke="#0c0c48" stroke-width="0.45"/>
<circle cx="628.20" cy="254.20" r="1.45" fill="#0c0cff" stroke="#0c0c48" stroke-width="0.45"/>
<circle cx="629.80" cy="254.70" r="1.45" fill="#0c0cff" stroke="#0c0c48" stroke-width="0.45"/>
<circle cx="630.60" cy="255.65" r="1.45" fill="#0c0cff" stroke="#0c0c48" stroke-width="0.45"/>
<circle cx="631.50" cy="256.70" r="1.45" fill="#0c0cff" stroke="#0c0c48" stroke-width="0.45"/>
<circle cx="633.20" cy="259.20" r="1.45" fill="#0c0cff" stroke="#0c0c48" stroke-width="0.45"/>
<circle cx="634.30" cy="262.50" r="1.45" fill="#0c0cff" stroke="#0c0c48" stroke-width="0.45"/>
<circle cx="635.70" cy="265.00" r="1.45" fill="#0c0cff" stroke="#0c0c48" stroke-width="0.45"/>
<circle cx="637.30" cy="261.70" r="1.45" fill="#0c0cff" stroke="#0c0c48" stroke-width="0.45"/>
<circle cx="638.70" cy="258.00" r="1.45" fill="#0c0cff" stroke="#0c0c48" stroke-width="0.45"/>
<circle cx="640.70" cy="258.00" r="1.45" fill="#0c0cff" stroke="#0c0c48" stroke-width="0.45"/>
<circle cx="642.30" cy="257.50" r="1.45" fill="#0c0cff" stroke="#0c0c48" stroke-width="0.45"/>
<circle cx="643.15" cy="257.50" r="1.45" fill="#0c0cff" stroke="#0c0c48" stroke-width="0.45"/>
<circle cx="644.00" cy="257.50" r="1.45" fill="#0c0cff" stroke="#0c0c48" stroke-width="0.45"/>
<circle cx="645.70" cy="258.00" r="1.45" fill="#0c0cff" stroke="#0c0c48" stroke-width="0.45"/>
<circle cx="647.30" cy="258.30" r="1.45" fill="#0c0cff" stroke="#0c0c48" stroke-width="0.45"/>
<circle cx="649.00" cy="258.00" r="1.45" fill="#0c0cff" stroke="#0c0c48" stroke-width="0.45"/>
<circle cx="650.70" cy="258.70" r="1.45" fill="#0c0cff" stroke="#0c0c48" stroke-width="0.45"/>
<circle cx="651.51" cy="259.23" r="1.45" fill="#0c0cff" stroke="#0c0c48" stroke-width="0.45"/>
<circle cx="652.70" cy="260.00" r="1.45" fill="#0c0cff" stroke="#0c0c48" stroke-width="0.45"/>
<circle cx="654.00" cy="260.80" r="1.45" fill="#0c0cff" stroke="#0c0c48" stroke-width="0.45"/>
<circle cx="655.70" cy="258.70" r="1.45" fill="#0c0cff" stroke="#0c0c48" stroke-width="0.45"/>
<circle cx="657.00" cy="265.00" r="1.45" fill="#0c0cff" stroke="#0c0c48" stroke-width="0.45"/>
<circle cx="658.20" cy="268.70" r="1.45" fill="#0c0cff" stroke="#0c0c48" stroke-width="0.45"/>
<circle cx="659.80" cy="270.80" r="1.45" fill="#0c0cff" stroke="#0c0c48" stroke-width="0.45"/>
<circle cx="661.00" cy="273.00" r="1.45" fill="#0c0cff" stroke="#0c0c48" stroke-width="0.45"/>
<circle cx="662.30" cy="275.00" r="1.45" fill="#0c0cff" stroke="#0c0c48" stroke-width="0.45"/>
<circle cx="664.00" cy="278.70" r="1.45" fill="#0c0cff" stroke="#0c0c48" stroke-width="0.45"/>
<circle cx="665.70" cy="280.30" r="1.45" fill="#0c0cff" stroke="#0c0c48" stroke-width="0.45"/>
<circle cx="667.00" cy="281.70" r="1.45" fill="#0c0cff" stroke="#0c0c48" stroke-width="0.45"/>
<circle cx="668.20" cy="285.80" r="1.45" fill="#0c0cff" stroke="#0c0c48" stroke-width="0.45"/>
<circle cx="669.30" cy="291.30" r="1.45" fill="#0c0cff" stroke="#0c0c48" stroke-width="0.45"/>
<circle cx="670.70" cy="293.30" r="1.45" fill="#0c0cff" stroke="#0c0c48" stroke-width="0.45"/>
<circle cx="672.00" cy="297.20" r="1.45" fill="#0c0cff" stroke="#0c0c48" stroke-width="0.45"/>
<circle cx="673.70" cy="297.20" r="1.45" fill="#0c0cff" stroke="#0c0c48" stroke-width="0.45"/>
<circle cx="674.80" cy="297.50" r="1.45" fill="#0c0cff" stroke="#0c0c48" stroke-width="0.45"/>
<circle cx="676.50" cy="300.00" r="1.45" fill="#0c0cff" stroke="#0c0c48" stroke-width="0.45"/>
<rect x="539.4" y="205.6" width="143.0" height="120.79999999999998" fill="none" stroke="#a6a6a6" stroke-width="1"/>
<line x1="537.4" y1="314.8" x2="539.4" y2="314.8" stroke="#555555" stroke-width="0.8"/>
<text x="536.4" y="317.7" font-family="Liberation Sans, sans-serif" font-size="8.0" fill="#4d4d4d" stroke="#4d4d4d" stroke-width="0.22" text-anchor="end">0</text>
<line x1="537.4" y1="282.3" x2="539.4" y2="282.3" stroke="#555555" stroke-width="0.8"/>
<text x="536.4" y="285.2" font-family="Liberation Sans, sans-serif" font-size="8.0" fill="#4d4d4d" stroke="#4d4d4d" stroke-width="0.22" text-anchor="end">2</text>
<line x1="537.4" y1="249.8" x2="539.4" y2="249.8" stroke="#555555" stroke-width="0.8"/>
<text x="536.4" y="252.70000000000002" font-family="Liberation Sans, sans-serif" font-size="8.0" fill="#4d4d4d" stroke="#4d4d4d" stroke-width="0.22" text-anchor="end">4</text>
<line x1="537.4" y1="217.3" x2="539.4" y2="217.3" stroke="#555555" stroke-width="0.8"/>
<text x="536.4" y="220.20000000000002" font-family="Liberation Sans, sans-serif" font-size="8.0" fill="#4d4d4d" stroke="#4d4d4d" stroke-width="0.22" text-anchor="end">6</text>
<line x1="573.3" y1="326.4" x2="573.3" y2="328.4" stroke="#555555" stroke-width="0.8"/>
<text x="573.3" y="336.4" font-family="Liberation Sans, sans-serif" font-size="8.0" fill="#4d4d4d" stroke="#4d4d4d" stroke-width="0.22" text-anchor="middle">25</text>
<line x1="608.1" y1="326.4" x2="608.1" y2="328.4" stroke="#555555" stroke-width="0.8"/>
<text x="608.1" y="336.4" font-family="Liberation Sans, sans-serif" font-size="8.0" fill="#4d4d4d" stroke="#4d4d4d" stroke-width="0.22" text-anchor="middle">50</text>
<line x1="642.9" y1="326.4" x2="642.9" y2="328.4" stroke="#555555" stroke-width="0.8"/>
<text x="642.9" y="336.4" font-family="Liberation Sans, sans-serif" font-size="8.0" fill="#4d4d4d" stroke="#4d4d4d" stroke-width="0.22" text-anchor="middle">75</text>
<line x1="677.7" y1="326.4" x2="677.7" y2="328.4" stroke="#555555" stroke-width="0.8"/>
<text x="677.7" y="336.4" font-family="Liberation Sans, sans-serif" font-size="8.0" fill="#4d4d4d" stroke="#4d4d4d" stroke-width="0.22" text-anchor="middle">100</text>
<text x="0" y="10.6" font-family="Liberation Sans, sans-serif" font-size="13.5" fill="#000">(<tspan font-weight="bold">a</tspan>)</text>
<text x="0" y="188" font-family="Liberation Sans, sans-serif" font-size="13.5" fill="#000">(<tspan font-weight="bold">b</tspan>)</text>
<text transform="translate(58,12.9) scale(1,1.08)" font-family="Liberation Sans, sans-serif" font-size="13.6" fill="#1a1a1a" stroke="#1a1a1a" stroke-width="0.2">Legend: Threshold (%)</text>
<defs><linearGradient id="lg" x1="0" x2="1" y1="0" y2="0"><stop offset="0.00" stop-color="#0000ff"/><stop offset="0.05" stop-color="#4b00f3"/><stop offset="0.10" stop-color="#6800e7"/><stop offset="0.15" stop-color="#7c00da"/><stop offset="0.20" stop-color="#8d00ce"/><stop offset="0.25" stop-color="#9a00c3"/><stop offset="0.30" stop-color="#a600b7"/><stop offset="0.35" stop-color="#b000ab"/><stop offset="0.40" stop-color="#ba009f"/><stop offset="0.45" stop-color="#c20094"/><stop offset="0.50" stop-color="#ca0088"/><stop offset="0.55" stop-color="#d1007d"/><stop offset="0.60" stop-color="#d70072"/><stop offset="0.65" stop-color="#dd0066"/><stop offset="0.70" stop-color="#e3005b"/><stop offset="0.75" stop-color="#e80050"/><stop offset="0.80" stop-color="#ed0044"/><stop offset="0.85" stop-color="#f20037"/><stop offset="0.90" stop-color="#f6002a"/><stop offset="0.95" stop-color="#fb001a"/><stop offset="1.00" stop-color="#ff0000"/></linearGradient></defs>
<line x1="221.2" y1="4" x2="221.2" y2="19" stroke="#eaeaea" stroke-width="0.8"/>
<line x1="236.6" y1="4" x2="236.6" y2="19" stroke="#eaeaea" stroke-width="0.8"/>
<line x1="252.4" y1="4" x2="252.4" y2="19" stroke="#eaeaea" stroke-width="0.8"/>
<line x1="267.6" y1="4" x2="267.6" y2="19" stroke="#eaeaea" stroke-width="0.8"/>
<rect x="208.8" y="3.9" width="60.9" height="3.1" fill="url(#lg)"/>
<text x="221.9" y="18.9" font-family="Liberation Sans, sans-serif" font-size="9.9" fill="#1a1a1a" stroke="#1a1a1a" stroke-width="0.2" text-anchor="middle">25</text>
<text x="237.9" y="18.9" font-family="Liberation Sans, sans-serif" font-size="9.9" fill="#1a1a1a" stroke="#1a1a1a" stroke-width="0.2" text-anchor="middle">50</text>
<text x="253.9" y="18.9" font-family="Liberation Sans, sans-serif" font-size="9.9" fill="#1a1a1a" stroke="#1a1a1a" stroke-width="0.2" text-anchor="middle">75</text>
<text transform="translate(13,84) rotate(-90)" font-family="Liberation Sans, sans-serif" font-size="13.5" fill="#1a1a1a" stroke="#1a1a1a" stroke-width="0.2" text-anchor="middle">Number of functions</text>
<text transform="translate(28.3,82) rotate(-90)" font-family="Liberation Sans, sans-serif" font-size="13.5" fill="#1a1a1a" stroke="#1a1a1a" stroke-width="0.2" text-anchor="middle">&gt;= Threshold</text>
<text transform="translate(11,282.5) rotate(-90)" font-family="Liberation Sans, sans-serif" font-size="13.7" fill="#1a1a1a" stroke="#1a1a1a" stroke-width="0.2" text-anchor="middle">Change in number of</text>
<text transform="translate(26.6,282.5) rotate(-90)" font-family="Liberation Sans, sans-serif" font-size="13.7" fill="#1a1a1a" stroke="#1a1a1a" stroke-width="0.2" text-anchor="middle">functions per unit increment</text>
<text transform="translate(128.3,174.9) scale(1,1.08)" font-family="Liberation Sans, sans-serif" font-size="13.5" fill="#1a1a1a" stroke="#1a1a1a" stroke-width="0.2" text-anchor="middle">Rock Ca (%)</text>
<text transform="translate(283.6,174.7) scale(1,1.08)" font-family="Liberation Sans, sans-serif" font-size="13.5" fill="#1a1a1a" stroke="#1a1a1a" stroke-width="0.2" text-anchor="middle">Rock Ca/Mg</text>
<text transform="translate(392.0,174.7) scale(1,1.08)" font-family="Liberation Sans, sans-serif" font-size="13.5" fill="#1a1a1a" stroke="#1a1a1a" stroke-width="0.2" text-anchor="start">Soil Ca</text>
<text transform="translate(435.6,178.29999999999998) scale(1,1.08)" font-family="Liberation Sans, sans-serif" font-size="9.1" fill="#1a1a1a" stroke="#1a1a1a" stroke-width="0.2" text-anchor="start">ex</text>
<text transform="translate(448.0,174.7) scale(1,1.08)" font-family="Liberation Sans, sans-serif" font-size="13.5" fill="#1a1a1a" stroke="#1a1a1a" stroke-width="0.2" text-anchor="start">(cmol kg</text>
<text transform="translate(497.9,170.1) scale(1,1.08)" font-family="Liberation Sans, sans-serif" font-size="9.1" fill="#1a1a1a" stroke="#1a1a1a" stroke-width="0.2" text-anchor="start">−1</text>
<text transform="translate(509.7,174.7) scale(1,1.08)" font-family="Liberation Sans, sans-serif" font-size="13.5" fill="#1a1a1a" stroke="#1a1a1a" stroke-width="0.2" text-anchor="start">)</text>
<text transform="translate(618,175.3) scale(1,1.08)" font-family="Liberation Sans, sans-serif" font-size="13.5" fill="#1a1a1a" stroke="#1a1a1a" stroke-width="0.2" text-anchor="middle">Soil Ca/Mg</text>
<text transform="translate(126.3,350.4) scale(1,1.04)" font-family="Liberation Sans, sans-serif" font-size="11.75" fill="#1a1a1a" stroke="#1a1a1a" stroke-width="0.2" text-anchor="middle">Threshold (%)</text>
<text transform="translate(281.4,350.4) scale(1,1.04)" font-family="Liberation Sans, sans-serif" font-size="11.75" fill="#1a1a1a" stroke="#1a1a1a" stroke-width="0.2" text-anchor="middle">Threshold (%)</text>
<text transform="translate(451.4,350.4) scale(1,1.04)" font-family="Liberation Sans, sans-serif" font-size="11.75" fill="#1a1a1a" stroke="#1a1a1a" stroke-width="0.2" text-anchor="middle">Threshold (%)</text>
<text transform="translate(619.5,350.4) scale(1,1.04)" font-family="Liberation Sans, sans-serif" font-size="11.75" fill="#1a1a1a" stroke="#1a1a1a" stroke-width="0.2" text-anchor="middle">Threshold (%)</text>
<text transform="translate(128.8,370.8) scale(1,1.08)" font-family="Liberation Sans, sans-serif" font-size="13.5" fill="#1a1a1a" stroke="#1a1a1a" stroke-width="0.2" text-anchor="middle">Rock Ca (%)</text>
<text transform="translate(283.6,368.6) scale(1,1.08)" font-family="Liberation Sans, sans-serif" font-size="13.5" fill="#1a1a1a" stroke="#1a1a1a" stroke-width="0.2" text-anchor="middle">Rock Ca/Mg</text>
<text transform="translate(392.0,368.6) scale(1,1.08)" font-family="Liberation Sans, sans-serif" font-size="13.5" fill="#1a1a1a" stroke="#1a1a1a" stroke-width="0.2" text-anchor="start">Soil Ca</text>
<text transform="translate(435.6,372.20000000000005) scale(1,1.08)" font-family="Liberation Sans, sans-serif" font-size="9.1" fill="#1a1a1a" stroke="#1a1a1a" stroke-width="0.2" text-anchor="start">ex</text>
<text transform="translate(448.0,368.6) scale(1,1.08)" font-family="Liberation Sans, sans-serif" font-size="13.5" fill="#1a1a1a" stroke="#1a1a1a" stroke-width="0.2" text-anchor="start">(cmol kg</text>
<text transform="translate(497.9,364.0) scale(1,1.08)" font-family="Liberation Sans, sans-serif" font-size="9.1" fill="#1a1a1a" stroke="#1a1a1a" stroke-width="0.2" text-anchor="start">−1</text>
<text transform="translate(509.7,368.6) scale(1,1.08)" font-family="Liberation Sans, sans-serif" font-size="13.5" fill="#1a1a1a" stroke="#1a1a1a" stroke-width="0.2" text-anchor="start">)</text>
<text transform="translate(618,368.6) scale(1,1.08)" font-family="Liberation Sans, sans-serif" font-size="13.5" fill="#1a1a1a" stroke="#1a1a1a" stroke-width="0.2" text-anchor="middle">Soil Ca/Mg</text>
</svg>
</body></html>
